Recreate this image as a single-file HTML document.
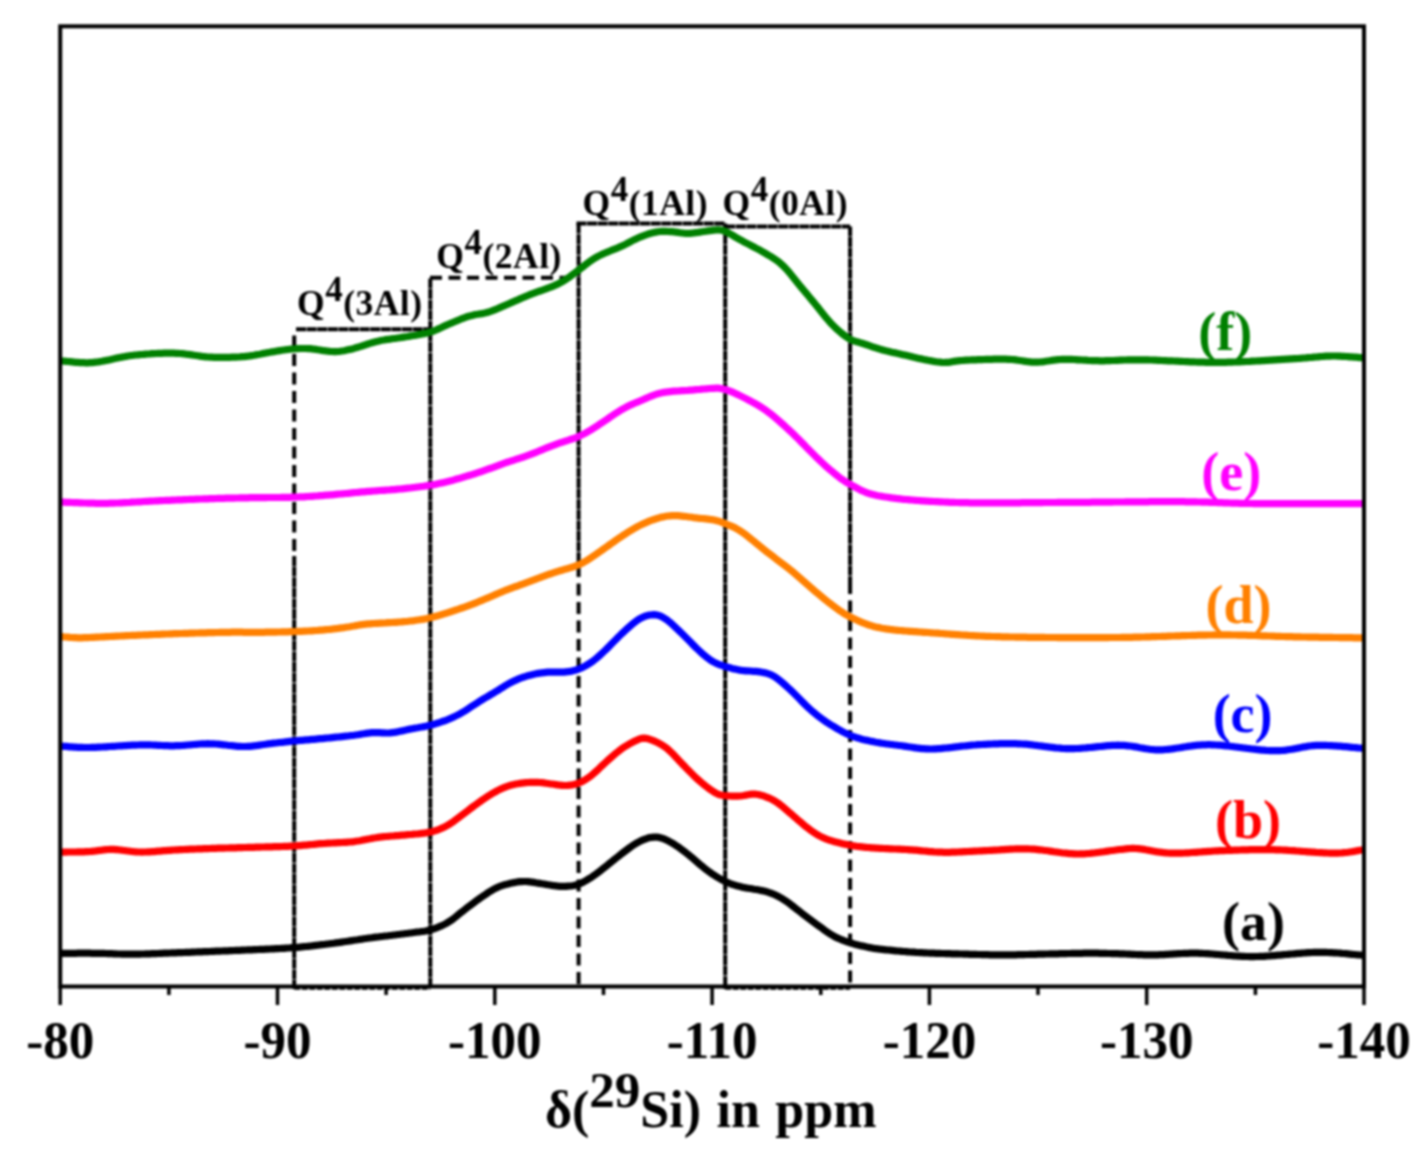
<!DOCTYPE html>
<html><head><meta charset="utf-8"><style>html,body{margin:0;padding:0;background:#fff;width:1427px;height:1155px;overflow:hidden}svg{display:block;filter:blur(0.8px)}</style></head>
<body>
<svg width="1427" height="1155" viewBox="0 0 1427 1155">
<rect x="0" y="0" width="1427" height="1155" fill="#fff"/>
<defs><clipPath id="pc"><rect x="60.2" y="26.3" width="1303.8" height="960.2"/></clipPath></defs>
<line x1="294.2" y1="335.6" x2="294.2" y2="556.0" stroke="#000" stroke-width="4.0" stroke-dasharray="12 6.5"/>
<line x1="294.2" y1="556.0" x2="294.2" y2="989.0" stroke="#000" stroke-width="4.0" stroke-dasharray="10 0.6"/>
<line x1="296.0" y1="329.2" x2="430.3" y2="329.2" stroke="#000" stroke-width="4.0" stroke-dasharray="10 0.6"/>
<line x1="294.2" y1="988.8" x2="430.3" y2="988.8" stroke="#000" stroke-width="2.0" stroke-dasharray="6 1.5"/>
<line x1="430.3" y1="278.5" x2="430.3" y2="986.5" stroke="#000" stroke-width="4.0" stroke-dasharray="10 0.6"/>
<line x1="430.0" y1="277.7" x2="578.3" y2="277.7" stroke="#000" stroke-width="4.0" stroke-dasharray="12 6.5"/>
<line x1="578.6" y1="223.6" x2="578.6" y2="565.0" stroke="#000" stroke-width="4.0" stroke-dasharray="10 0.6"/>
<line x1="578.6" y1="565.0" x2="578.6" y2="986.5" stroke="#000" stroke-width="4.0" stroke-dasharray="12 6.5"/>
<line x1="576.5" y1="223.6" x2="725.2" y2="223.6" stroke="#000" stroke-width="4.0" stroke-dasharray="10 0.6"/>
<line x1="725.2" y1="223.6" x2="725.2" y2="989.0" stroke="#000" stroke-width="4.0" stroke-dasharray="10 0.6"/>
<line x1="725.2" y1="226.4" x2="850.1" y2="226.4" stroke="#000" stroke-width="4.0" stroke-dasharray="10 0.6"/>
<line x1="850.1" y1="226.4" x2="850.1" y2="582.0" stroke="#000" stroke-width="4.0" stroke-dasharray="10 0.6"/>
<line x1="850.1" y1="582.0" x2="850.1" y2="986.5" stroke="#000" stroke-width="4.0" stroke-dasharray="12 6.5"/>
<line x1="725.2" y1="988.8" x2="850.1" y2="988.8" stroke="#000" stroke-width="2.0" stroke-dasharray="6 1.5"/>
<path d="M55.9 953.3 L57.9 953.3 L59.9 953.3 L61.9 953.3 L63.9 953.3 L65.9 953.3 L67.9 953.3 L69.9 953.3 L71.9 953.3 L73.9 953.3 L75.9 953.3 L77.9 953.2 L79.9 953.2 L81.9 953.2 L83.9 953.2 L85.9 953.2 L87.9 953.2 L89.9 953.2 L91.9 953.3 L93.9 953.3 L95.9 953.3 L97.9 953.3 L99.9 953.3 L101.9 953.4 L103.9 953.4 L105.9 953.5 L107.9 953.6 L109.9 953.7 L111.9 953.7 L113.9 953.8 L115.9 953.9 L117.9 954.0 L119.9 954.0 L121.9 954.1 L123.9 954.1 L125.9 954.2 L127.9 954.2 L129.9 954.2 L131.9 954.2 L133.9 954.2 L135.9 954.2 L137.9 954.1 L139.9 954.1 L141.9 954.0 L143.9 954.0 L145.9 953.9 L147.9 953.8 L149.9 953.8 L151.9 953.7 L153.9 953.6 L155.9 953.6 L157.9 953.5 L159.9 953.4 L161.9 953.3 L163.9 953.2 L165.9 953.2 L167.9 953.1 L169.9 953.0 L171.9 952.9 L173.9 952.8 L175.9 952.8 L177.9 952.7 L179.9 952.6 L181.9 952.6 L183.9 952.5 L185.9 952.4 L187.9 952.3 L189.9 952.3 L191.9 952.2 L193.9 952.1 L195.9 952.0 L197.9 951.9 L199.9 951.9 L201.9 951.8 L203.9 951.7 L205.9 951.6 L207.9 951.6 L209.9 951.5 L211.9 951.4 L213.9 951.3 L215.9 951.2 L217.9 951.2 L219.9 951.1 L221.9 951.0 L223.9 950.9 L225.9 950.8 L227.9 950.8 L229.9 950.7 L231.9 950.6 L233.9 950.5 L235.9 950.4 L237.9 950.3 L239.9 950.3 L241.9 950.2 L243.9 950.1 L245.9 950.0 L247.9 949.9 L249.9 949.9 L251.9 949.8 L253.9 949.7 L255.9 949.6 L257.9 949.5 L259.9 949.4 L261.9 949.3 L263.9 949.3 L265.9 949.2 L267.9 949.1 L269.9 949.0 L271.9 948.9 L273.9 948.8 L275.9 948.7 L277.9 948.6 L279.9 948.5 L281.9 948.4 L283.9 948.3 L285.9 948.1 L287.9 948.0 L289.9 947.9 L291.9 947.7 L293.9 947.6 L295.9 947.4 L297.9 947.3 L299.9 947.1 L301.9 946.9 L303.9 946.7 L305.9 946.5 L307.9 946.3 L309.9 946.1 L311.9 945.9 L313.9 945.6 L315.9 945.4 L317.9 945.2 L319.9 944.9 L321.9 944.7 L323.9 944.5 L325.9 944.2 L327.9 944.0 L329.9 943.7 L331.9 943.5 L333.9 943.2 L335.9 942.9 L337.9 942.7 L339.9 942.4 L341.9 942.1 L343.9 941.8 L345.9 941.5 L347.9 941.2 L349.9 940.9 L351.9 940.6 L353.9 940.3 L355.9 940.0 L357.9 939.7 L359.9 939.3 L361.9 939.1 L363.9 938.8 L365.9 938.5 L367.9 938.2 L369.9 938.0 L371.9 937.7 L373.9 937.4 L375.9 937.2 L377.9 937.0 L379.9 936.7 L381.9 936.5 L383.9 936.2 L385.9 936.0 L387.9 935.8 L389.9 935.5 L391.9 935.3 L393.9 935.0 L395.9 934.8 L397.9 934.5 L399.9 934.3 L401.9 934.0 L403.9 933.8 L405.9 933.5 L407.9 933.3 L409.9 933.0 L411.9 932.8 L413.9 932.5 L415.9 932.2 L417.9 932.0 L419.9 931.8 L421.9 931.5 L423.9 931.3 L425.9 931.0 L427.9 930.5 L429.9 930.0 L431.9 929.4 L433.9 928.8 L435.9 928.0 L437.9 927.3 L439.9 926.4 L441.9 925.6 L443.9 924.6 L445.9 923.6 L447.9 922.4 L449.9 921.2 L451.9 919.8 L453.9 918.3 L455.9 916.7 L457.9 915.0 L459.9 913.4 L461.9 911.8 L463.9 910.3 L465.9 908.7 L467.9 907.2 L469.9 905.7 L471.9 904.1 L473.9 902.7 L475.9 901.2 L477.9 899.7 L479.9 898.3 L481.9 896.9 L483.9 895.5 L485.9 894.2 L487.9 892.8 L489.9 891.5 L491.9 890.3 L493.9 889.2 L495.9 888.1 L497.9 887.2 L499.9 886.3 L501.9 885.6 L503.9 885.0 L505.9 884.4 L507.9 883.9 L509.9 883.4 L511.9 883.0 L513.9 882.6 L515.9 882.2 L517.9 881.9 L519.9 881.7 L521.9 881.6 L523.9 881.5 L525.9 881.5 L527.9 881.7 L529.9 881.9 L531.9 882.1 L533.9 882.4 L535.9 882.8 L537.9 883.1 L539.9 883.4 L541.9 883.7 L543.9 884.0 L545.9 884.4 L547.9 884.7 L549.9 885.0 L551.9 885.4 L553.9 885.7 L555.9 885.9 L557.9 886.2 L559.9 886.3 L561.9 886.4 L563.9 886.4 L565.9 886.4 L567.9 886.2 L569.9 886.0 L571.9 885.8 L573.9 885.5 L575.9 885.0 L577.9 884.4 L579.9 883.6 L581.9 882.7 L583.9 881.7 L585.9 880.6 L587.9 879.4 L589.9 878.2 L591.9 876.9 L593.9 875.5 L595.9 874.1 L597.9 872.6 L599.9 871.1 L601.9 869.5 L603.9 867.9 L605.9 866.4 L607.9 864.8 L609.9 863.1 L611.9 861.5 L613.9 859.9 L615.9 858.3 L617.9 856.7 L619.9 855.1 L621.9 853.5 L623.9 852.0 L625.9 850.5 L627.9 849.0 L629.9 847.5 L631.9 846.1 L633.9 844.8 L635.9 843.5 L637.9 842.4 L639.9 841.3 L641.9 840.4 L643.9 839.5 L645.9 838.8 L647.9 838.1 L649.9 837.6 L651.9 837.3 L653.9 837.1 L655.9 837.1 L657.9 837.2 L659.9 837.6 L661.9 838.2 L663.9 838.9 L665.9 839.8 L667.9 840.7 L669.9 841.8 L671.9 842.9 L673.9 844.1 L675.9 845.4 L677.9 846.7 L679.9 848.2 L681.9 849.6 L683.9 851.2 L685.9 852.7 L687.9 854.3 L689.9 855.9 L691.9 857.6 L693.9 859.3 L695.9 861.0 L697.9 862.7 L699.9 864.5 L701.9 866.1 L703.9 867.8 L705.9 869.4 L707.9 870.9 L709.9 872.3 L711.9 873.7 L713.9 875.0 L715.9 876.3 L717.9 877.5 L719.9 878.7 L721.9 879.8 L723.9 880.8 L725.9 881.8 L727.9 882.7 L729.9 883.5 L731.9 884.3 L733.9 884.9 L735.9 885.5 L737.9 886.1 L739.9 886.6 L741.9 887.1 L743.9 887.5 L745.9 887.9 L747.9 888.2 L749.9 888.5 L751.9 888.8 L753.9 889.2 L755.9 889.5 L757.9 889.8 L759.9 890.2 L761.9 890.6 L763.9 891.0 L765.9 891.5 L767.9 892.1 L769.9 892.8 L771.9 893.5 L773.9 894.3 L775.9 895.2 L777.9 896.2 L779.9 897.3 L781.9 898.4 L783.9 899.7 L785.9 901.0 L787.9 902.4 L789.9 903.9 L791.9 905.5 L793.9 907.0 L795.9 908.6 L797.9 910.2 L799.9 911.7 L801.9 913.3 L803.9 914.8 L805.9 916.3 L807.9 917.8 L809.9 919.3 L811.9 920.8 L813.9 922.3 L815.9 923.8 L817.9 925.3 L819.9 926.7 L821.9 928.2 L823.9 929.7 L825.9 931.1 L827.9 932.5 L829.9 933.8 L831.9 935.0 L833.9 936.2 L835.9 937.2 L837.9 938.2 L839.9 939.0 L841.9 939.8 L843.9 940.6 L845.9 941.3 L847.9 942.0 L849.9 942.7 L851.9 943.3 L853.9 943.9 L855.9 944.4 L857.9 944.9 L859.9 945.4 L861.9 945.9 L863.9 946.3 L865.9 946.8 L867.9 947.2 L869.9 947.6 L871.9 948.0 L873.9 948.4 L875.9 948.7 L877.9 948.9 L879.9 949.2 L881.9 949.4 L883.9 949.6 L885.9 949.8 L887.9 950.0 L889.9 950.2 L891.9 950.4 L893.9 950.6 L895.9 950.8 L897.9 951.0 L899.9 951.1 L901.9 951.3 L903.9 951.5 L905.9 951.6 L907.9 951.8 L909.9 952.0 L911.9 952.1 L913.9 952.2 L915.9 952.4 L917.9 952.5 L919.9 952.6 L921.9 952.7 L923.9 952.8 L925.9 952.9 L927.9 953.0 L929.9 953.1 L931.9 953.2 L933.9 953.2 L935.9 953.3 L937.9 953.4 L939.9 953.4 L941.9 953.5 L943.9 953.5 L945.9 953.6 L947.9 953.7 L949.9 953.7 L951.9 953.8 L953.9 953.8 L955.9 953.9 L957.9 953.9 L959.9 954.0 L961.9 954.0 L963.9 954.1 L965.9 954.1 L967.9 954.2 L969.9 954.3 L971.9 954.3 L973.9 954.4 L975.9 954.4 L977.9 954.5 L979.9 954.5 L981.9 954.6 L983.9 954.6 L985.9 954.7 L987.9 954.7 L989.9 954.8 L991.9 954.8 L993.9 954.8 L995.9 954.8 L997.9 954.9 L999.9 954.9 L1001.9 954.9 L1003.9 954.9 L1005.9 954.9 L1007.9 954.9 L1009.9 954.9 L1011.9 954.8 L1013.9 954.8 L1015.9 954.8 L1017.9 954.7 L1019.9 954.7 L1021.9 954.6 L1023.9 954.6 L1025.9 954.5 L1027.9 954.5 L1029.9 954.4 L1031.9 954.4 L1033.9 954.3 L1035.9 954.3 L1037.9 954.2 L1039.9 954.2 L1041.9 954.1 L1043.9 954.1 L1045.9 954.0 L1047.9 954.0 L1049.9 953.9 L1051.9 953.9 L1053.9 953.8 L1055.9 953.8 L1057.9 953.8 L1059.9 953.7 L1061.9 953.7 L1063.9 953.6 L1065.9 953.6 L1067.9 953.5 L1069.9 953.5 L1071.9 953.4 L1073.9 953.4 L1075.9 953.4 L1077.9 953.3 L1079.9 953.3 L1081.9 953.3 L1083.9 953.2 L1085.9 953.2 L1087.9 953.2 L1089.9 953.2 L1091.9 953.2 L1093.9 953.2 L1095.9 953.2 L1097.9 953.2 L1099.9 953.3 L1101.9 953.3 L1103.9 953.4 L1105.9 953.4 L1107.9 953.5 L1109.9 953.5 L1111.9 953.6 L1113.9 953.6 L1115.9 953.7 L1117.9 953.7 L1119.9 953.8 L1121.9 953.9 L1123.9 953.9 L1125.9 954.0 L1127.9 954.1 L1129.9 954.2 L1131.9 954.3 L1133.9 954.4 L1135.9 954.5 L1137.9 954.6 L1139.9 954.6 L1141.9 954.7 L1143.9 954.8 L1145.9 954.8 L1147.9 954.9 L1149.9 954.9 L1151.9 954.9 L1153.9 954.9 L1155.9 954.9 L1157.9 954.8 L1159.9 954.7 L1161.9 954.7 L1163.9 954.6 L1165.9 954.4 L1167.9 954.3 L1169.9 954.2 L1171.9 954.1 L1173.9 953.9 L1175.9 953.8 L1177.9 953.7 L1179.9 953.6 L1181.9 953.5 L1183.9 953.4 L1185.9 953.3 L1187.9 953.3 L1189.9 953.2 L1191.9 953.2 L1193.9 953.2 L1195.9 953.2 L1197.9 953.2 L1199.9 953.3 L1201.9 953.4 L1203.9 953.5 L1205.9 953.6 L1207.9 953.7 L1209.9 953.8 L1211.9 954.0 L1213.9 954.2 L1215.9 954.3 L1217.9 954.5 L1219.9 954.7 L1221.9 954.8 L1223.9 955.0 L1225.9 955.2 L1227.9 955.4 L1229.9 955.5 L1231.9 955.7 L1233.9 955.8 L1235.9 956.0 L1237.9 956.1 L1239.9 956.2 L1241.9 956.3 L1243.9 956.4 L1245.9 956.5 L1247.9 956.5 L1249.9 956.6 L1251.9 956.6 L1253.9 956.6 L1255.9 956.5 L1257.9 956.5 L1259.9 956.4 L1261.9 956.4 L1263.9 956.3 L1265.9 956.1 L1267.9 956.0 L1269.9 955.9 L1271.9 955.7 L1273.9 955.6 L1275.9 955.4 L1277.9 955.2 L1279.9 955.1 L1281.9 954.9 L1283.9 954.7 L1285.9 954.5 L1287.9 954.3 L1289.9 954.1 L1291.9 954.0 L1293.9 953.8 L1295.9 953.6 L1297.9 953.4 L1299.9 953.3 L1301.9 953.1 L1303.9 953.0 L1305.9 952.8 L1307.9 952.7 L1309.9 952.6 L1311.9 952.5 L1313.9 952.4 L1315.9 952.4 L1317.9 952.3 L1319.9 952.3 L1321.9 952.3 L1323.9 952.4 L1325.9 952.4 L1327.9 952.5 L1329.9 952.6 L1331.9 952.7 L1333.9 952.8 L1335.9 952.9 L1337.9 953.0 L1339.9 953.2 L1341.9 953.4 L1343.9 953.5 L1345.9 953.7 L1347.9 953.9 L1349.9 954.1 L1351.9 954.3 L1353.9 954.5 L1355.9 954.7 L1357.9 954.8 L1359.9 955.0 L1361.9 955.2 L1363.9 955.3 L1365.9 955.4 L1367.9 955.4 L1369.9 955.4" fill="none" stroke="#000000" stroke-width="7.2" stroke-linejoin="round" stroke-linecap="round" clip-path="url(#pc)"/>
<path d="M55.9 852.1 L57.9 852.1 L59.9 852.1 L61.9 852.1 L63.9 852.1 L65.9 852.1 L67.9 852.0 L69.9 852.0 L71.9 852.0 L73.9 852.0 L75.9 852.0 L77.9 851.9 L79.9 851.9 L81.9 851.9 L83.9 851.8 L85.9 851.7 L87.9 851.6 L89.9 851.5 L91.9 851.3 L93.9 851.1 L95.9 850.9 L97.9 850.6 L99.9 850.3 L101.9 850.1 L103.9 849.8 L105.9 849.6 L107.9 849.5 L109.9 849.4 L111.9 849.4 L113.9 849.4 L115.9 849.6 L117.9 849.7 L119.9 850.0 L121.9 850.2 L123.9 850.5 L125.9 850.7 L127.9 851.0 L129.9 851.2 L131.9 851.5 L133.9 851.7 L135.9 851.8 L137.9 852.0 L139.9 852.0 L141.9 852.1 L143.9 852.0 L145.9 852.0 L147.9 851.9 L149.9 851.8 L151.9 851.7 L153.9 851.6 L155.9 851.4 L157.9 851.2 L159.9 851.1 L161.9 850.9 L163.9 850.7 L165.9 850.6 L167.9 850.4 L169.9 850.3 L171.9 850.1 L173.9 850.0 L175.9 849.9 L177.9 849.8 L179.9 849.7 L181.9 849.6 L183.9 849.5 L185.9 849.4 L187.9 849.3 L189.9 849.2 L191.9 849.1 L193.9 849.1 L195.9 849.0 L197.9 848.9 L199.9 848.8 L201.9 848.8 L203.9 848.7 L205.9 848.6 L207.9 848.6 L209.9 848.5 L211.9 848.4 L213.9 848.4 L215.9 848.3 L217.9 848.2 L219.9 848.2 L221.9 848.1 L223.9 848.1 L225.9 848.0 L227.9 848.0 L229.9 847.9 L231.9 847.9 L233.9 847.8 L235.9 847.8 L237.9 847.7 L239.9 847.6 L241.9 847.6 L243.9 847.5 L245.9 847.5 L247.9 847.4 L249.9 847.4 L251.9 847.3 L253.9 847.3 L255.9 847.2 L257.9 847.1 L259.9 847.1 L261.9 847.0 L263.9 847.0 L265.9 846.9 L267.9 846.9 L269.9 846.8 L271.9 846.8 L273.9 846.7 L275.9 846.7 L277.9 846.6 L279.9 846.6 L281.9 846.5 L283.9 846.4 L285.9 846.3 L287.9 846.3 L289.9 846.2 L291.9 846.1 L293.9 846.0 L295.9 845.9 L297.9 845.7 L299.9 845.6 L301.9 845.4 L303.9 845.2 L305.9 845.1 L307.9 844.9 L309.9 844.7 L311.9 844.5 L313.9 844.3 L315.9 844.1 L317.9 843.9 L319.9 843.7 L321.9 843.6 L323.9 843.5 L325.9 843.3 L327.9 843.2 L329.9 843.1 L331.9 843.0 L333.9 842.9 L335.9 842.8 L337.9 842.7 L339.9 842.6 L341.9 842.5 L343.9 842.4 L345.9 842.3 L347.9 842.1 L349.9 842.0 L351.9 841.8 L353.9 841.6 L355.9 841.3 L357.9 841.0 L359.9 840.7 L361.9 840.3 L363.9 839.9 L365.9 839.5 L367.9 839.1 L369.9 838.8 L371.9 838.4 L373.9 838.0 L375.9 837.7 L377.9 837.4 L379.9 837.1 L381.9 836.9 L383.9 836.7 L385.9 836.5 L387.9 836.3 L389.9 836.2 L391.9 836.0 L393.9 835.9 L395.9 835.7 L397.9 835.6 L399.9 835.4 L401.9 835.2 L403.9 835.1 L405.9 834.9 L407.9 834.7 L409.9 834.5 L411.9 834.4 L413.9 834.2 L415.9 834.0 L417.9 833.9 L419.9 833.7 L421.9 833.4 L423.9 833.2 L425.9 832.9 L427.9 832.5 L429.9 832.1 L431.9 831.7 L433.9 831.1 L435.9 830.5 L437.9 829.8 L439.9 829.0 L441.9 828.1 L443.9 827.2 L445.9 826.2 L447.9 825.1 L449.9 823.9 L451.9 822.6 L453.9 821.2 L455.9 819.7 L457.9 818.2 L459.9 816.6 L461.9 815.1 L463.9 813.6 L465.9 812.1 L467.9 810.6 L469.9 809.0 L471.9 807.5 L473.9 806.0 L475.9 804.6 L477.9 803.1 L479.9 801.7 L481.9 800.3 L483.9 798.9 L485.9 797.6 L487.9 796.2 L489.9 795.0 L491.9 793.7 L493.9 792.6 L495.9 791.5 L497.9 790.4 L499.9 789.4 L501.9 788.5 L503.9 787.6 L505.9 786.8 L507.9 786.1 L509.9 785.5 L511.9 784.9 L513.9 784.5 L515.9 784.0 L517.9 783.7 L519.9 783.4 L521.9 783.1 L523.9 782.9 L525.9 782.7 L527.9 782.5 L529.9 782.4 L531.9 782.3 L533.9 782.3 L535.9 782.3 L537.9 782.4 L539.9 782.5 L541.9 782.7 L543.9 782.9 L545.9 783.2 L547.9 783.5 L549.9 783.8 L551.9 784.0 L553.9 784.3 L555.9 784.6 L557.9 784.9 L559.9 785.1 L561.9 785.3 L563.9 785.5 L565.9 785.5 L567.9 785.4 L569.9 785.2 L571.9 784.9 L573.9 784.5 L575.9 784.0 L577.9 783.3 L579.9 782.5 L581.9 781.6 L583.9 780.5 L585.9 779.3 L587.9 778.0 L589.9 776.6 L591.9 775.0 L593.9 773.3 L595.9 771.5 L597.9 769.7 L599.9 767.7 L601.9 765.8 L603.9 764.0 L605.9 762.1 L607.9 760.3 L609.9 758.5 L611.9 756.7 L613.9 755.0 L615.9 753.3 L617.9 751.7 L619.9 750.1 L621.9 748.6 L623.9 747.3 L625.9 746.0 L627.9 744.8 L629.9 743.7 L631.9 742.6 L633.9 741.5 L635.9 740.6 L637.9 739.7 L639.9 738.9 L641.9 738.3 L643.9 738.1 L645.9 738.3 L647.9 738.8 L649.9 739.4 L651.9 740.1 L653.9 740.9 L655.9 741.8 L657.9 742.7 L659.9 743.8 L661.9 744.9 L663.9 746.2 L665.9 747.6 L667.9 749.3 L669.9 751.1 L671.9 753.0 L673.9 755.1 L675.9 757.2 L677.9 759.3 L679.9 761.5 L681.9 763.6 L683.9 765.6 L685.9 767.7 L687.9 769.7 L689.9 771.8 L691.9 773.8 L693.9 775.8 L695.9 777.7 L697.9 779.5 L699.9 781.3 L701.9 783.0 L703.9 784.6 L705.9 786.2 L707.9 787.8 L709.9 789.2 L711.9 790.6 L713.9 791.9 L715.9 793.1 L717.9 794.1 L719.9 794.8 L721.9 795.2 L723.9 795.5 L725.9 795.8 L727.9 795.9 L729.9 796.0 L731.9 796.1 L733.9 796.1 L735.9 796.1 L737.9 796.1 L739.9 796.0 L741.9 795.8 L743.9 795.5 L745.9 795.1 L747.9 794.7 L749.9 794.4 L751.9 794.2 L753.9 794.1 L755.9 794.2 L757.9 794.5 L759.9 794.9 L761.9 795.4 L763.9 796.0 L765.9 796.8 L767.9 797.6 L769.9 798.4 L771.9 799.4 L773.9 800.5 L775.9 801.7 L777.9 803.0 L779.9 804.5 L781.9 806.1 L783.9 807.8 L785.9 809.5 L787.9 811.2 L789.9 812.9 L791.9 814.6 L793.9 816.4 L795.9 818.1 L797.9 819.9 L799.9 821.6 L801.9 823.3 L803.9 825.0 L805.9 826.7 L807.9 828.2 L809.9 829.7 L811.9 831.1 L813.9 832.5 L815.9 833.8 L817.9 835.0 L819.9 836.1 L821.9 837.1 L823.9 838.0 L825.9 838.9 L827.9 839.6 L829.9 840.3 L831.9 840.9 L833.9 841.5 L835.9 842.1 L837.9 842.6 L839.9 843.1 L841.9 843.6 L843.9 844.0 L845.9 844.4 L847.9 844.8 L849.9 845.2 L851.9 845.6 L853.9 845.9 L855.9 846.2 L857.9 846.5 L859.9 846.7 L861.9 846.9 L863.9 847.1 L865.9 847.3 L867.9 847.5 L869.9 847.6 L871.9 847.8 L873.9 847.9 L875.9 848.1 L877.9 848.2 L879.9 848.3 L881.9 848.4 L883.9 848.5 L885.9 848.6 L887.9 848.7 L889.9 848.8 L891.9 848.9 L893.9 849.0 L895.9 849.0 L897.9 849.1 L899.9 849.2 L901.9 849.3 L903.9 849.4 L905.9 849.5 L907.9 849.6 L909.9 849.8 L911.9 849.9 L913.9 850.1 L915.9 850.2 L917.9 850.4 L919.9 850.6 L921.9 850.8 L923.9 851.0 L925.9 851.2 L927.9 851.4 L929.9 851.6 L931.9 851.7 L933.9 851.9 L935.9 852.0 L937.9 852.1 L939.9 852.2 L941.9 852.2 L943.9 852.3 L945.9 852.3 L947.9 852.3 L949.9 852.3 L951.9 852.2 L953.9 852.2 L955.9 852.1 L957.9 852.0 L959.9 851.9 L961.9 851.8 L963.9 851.7 L965.9 851.6 L967.9 851.5 L969.9 851.4 L971.9 851.3 L973.9 851.2 L975.9 851.1 L977.9 851.0 L979.9 850.9 L981.9 850.8 L983.9 850.7 L985.9 850.6 L987.9 850.5 L989.9 850.4 L991.9 850.3 L993.9 850.2 L995.9 850.1 L997.9 850.0 L999.9 849.8 L1001.9 849.7 L1003.9 849.6 L1005.9 849.4 L1007.9 849.3 L1009.9 849.2 L1011.9 849.1 L1013.9 849.0 L1015.9 848.9 L1017.9 848.9 L1019.9 848.8 L1021.9 848.8 L1023.9 848.8 L1025.9 848.8 L1027.9 848.9 L1029.9 849.0 L1031.9 849.1 L1033.9 849.2 L1035.9 849.4 L1037.9 849.6 L1039.9 849.8 L1041.9 850.0 L1043.9 850.3 L1045.9 850.5 L1047.9 850.8 L1049.9 851.1 L1051.9 851.4 L1053.9 851.7 L1055.9 852.0 L1057.9 852.2 L1059.9 852.5 L1061.9 852.8 L1063.9 853.0 L1065.9 853.2 L1067.9 853.4 L1069.9 853.6 L1071.9 853.7 L1073.9 853.9 L1075.9 853.9 L1077.9 854.0 L1079.9 853.9 L1081.9 853.9 L1083.9 853.8 L1085.9 853.7 L1087.9 853.5 L1089.9 853.4 L1091.9 853.2 L1093.9 853.0 L1095.9 852.7 L1097.9 852.5 L1099.9 852.2 L1101.9 852.0 L1103.9 851.7 L1105.9 851.4 L1107.9 851.1 L1109.9 850.8 L1111.9 850.5 L1113.9 850.3 L1115.9 850.0 L1117.9 849.7 L1119.9 849.5 L1121.9 849.3 L1123.9 849.1 L1125.9 848.8 L1127.9 848.6 L1129.9 848.5 L1131.9 848.4 L1133.9 848.4 L1135.9 848.5 L1137.9 848.6 L1139.9 848.8 L1141.9 849.1 L1143.9 849.4 L1145.9 849.8 L1147.9 850.1 L1149.9 850.5 L1151.9 850.9 L1153.9 851.2 L1155.9 851.6 L1157.9 851.9 L1159.9 852.2 L1161.9 852.4 L1163.9 852.7 L1165.9 852.8 L1167.9 853.0 L1169.9 853.1 L1171.9 853.2 L1173.9 853.2 L1175.9 853.2 L1177.9 853.2 L1179.9 853.1 L1181.9 853.1 L1183.9 853.0 L1185.9 852.9 L1187.9 852.8 L1189.9 852.7 L1191.9 852.5 L1193.9 852.4 L1195.9 852.3 L1197.9 852.1 L1199.9 852.0 L1201.9 851.8 L1203.9 851.7 L1205.9 851.6 L1207.9 851.4 L1209.9 851.3 L1211.9 851.2 L1213.9 851.0 L1215.9 850.9 L1217.9 850.8 L1219.9 850.7 L1221.9 850.7 L1223.9 850.6 L1225.9 850.5 L1227.9 850.4 L1229.9 850.4 L1231.9 850.3 L1233.9 850.2 L1235.9 850.1 L1237.9 850.1 L1239.9 850.0 L1241.9 849.9 L1243.9 849.9 L1245.9 849.8 L1247.9 849.8 L1249.9 849.7 L1251.9 849.7 L1253.9 849.7 L1255.9 849.6 L1257.9 849.6 L1259.9 849.6 L1261.9 849.6 L1263.9 849.6 L1265.9 849.6 L1267.9 849.6 L1269.9 849.6 L1271.9 849.7 L1273.9 849.7 L1275.9 849.8 L1277.9 849.8 L1279.9 849.9 L1281.9 850.0 L1283.9 850.1 L1285.9 850.2 L1287.9 850.3 L1289.9 850.5 L1291.9 850.6 L1293.9 850.7 L1295.9 850.9 L1297.9 851.0 L1299.9 851.2 L1301.9 851.3 L1303.9 851.5 L1305.9 851.6 L1307.9 851.8 L1309.9 851.9 L1311.9 852.1 L1313.9 852.2 L1315.9 852.4 L1317.9 852.5 L1319.9 852.6 L1321.9 852.7 L1323.9 852.8 L1325.9 852.9 L1327.9 853.0 L1329.9 853.1 L1331.9 853.1 L1333.9 853.2 L1335.9 853.1 L1337.9 853.1 L1339.9 853.0 L1341.9 852.9 L1343.9 852.7 L1345.9 852.5 L1347.9 852.3 L1349.9 852.0 L1351.9 851.7 L1353.9 851.4 L1355.9 851.0 L1357.9 850.6 L1359.9 850.3 L1361.9 850.0 L1363.9 849.7 L1365.9 849.6 L1367.9 849.5 L1369.9 849.5" fill="none" stroke="#ff0000" stroke-width="7.2" stroke-linejoin="round" stroke-linecap="round" clip-path="url(#pc)"/>
<path d="M55.9 746.1 L57.9 746.1 L59.9 746.1 L61.9 746.2 L63.9 746.3 L65.9 746.4 L67.9 746.6 L69.9 746.8 L71.9 746.9 L73.9 747.1 L75.9 747.2 L77.9 747.3 L79.9 747.4 L81.9 747.4 L83.9 747.5 L85.9 747.5 L87.9 747.5 L89.9 747.5 L91.9 747.4 L93.9 747.4 L95.9 747.3 L97.9 747.2 L99.9 747.1 L101.9 747.0 L103.9 746.9 L105.9 746.8 L107.9 746.6 L109.9 746.5 L111.9 746.4 L113.9 746.3 L115.9 746.2 L117.9 746.0 L119.9 745.9 L121.9 745.8 L123.9 745.7 L125.9 745.6 L127.9 745.4 L129.9 745.3 L131.9 745.2 L133.9 745.1 L135.9 745.1 L137.9 745.0 L139.9 744.9 L141.9 744.9 L143.9 744.9 L145.9 744.9 L147.9 744.9 L149.9 744.9 L151.9 745.0 L153.9 745.1 L155.9 745.2 L157.9 745.3 L159.9 745.4 L161.9 745.5 L163.9 745.6 L165.9 745.6 L167.9 745.7 L169.9 745.8 L171.9 745.8 L173.9 745.8 L175.9 745.7 L177.9 745.7 L179.9 745.6 L181.9 745.5 L183.9 745.3 L185.9 745.2 L187.9 745.0 L189.9 744.8 L191.9 744.7 L193.9 744.5 L195.9 744.3 L197.9 744.2 L199.9 744.0 L201.9 743.9 L203.9 743.8 L205.9 743.8 L207.9 743.7 L209.9 743.8 L211.9 743.8 L213.9 743.9 L215.9 744.0 L217.9 744.2 L219.9 744.4 L221.9 744.6 L223.9 744.8 L225.9 745.0 L227.9 745.3 L229.9 745.5 L231.9 745.7 L233.9 745.9 L235.9 746.1 L237.9 746.3 L239.9 746.4 L241.9 746.5 L243.9 746.5 L245.9 746.5 L247.9 746.4 L249.9 746.3 L251.9 746.1 L253.9 745.9 L255.9 745.7 L257.9 745.4 L259.9 745.1 L261.9 744.8 L263.9 744.5 L265.9 744.2 L267.9 743.9 L269.9 743.7 L271.9 743.4 L273.9 743.2 L275.9 743.0 L277.9 742.7 L279.9 742.5 L281.9 742.3 L283.9 742.1 L285.9 741.8 L287.9 741.6 L289.9 741.4 L291.9 741.2 L293.9 741.0 L295.9 740.8 L297.9 740.6 L299.9 740.4 L301.9 740.3 L303.9 740.1 L305.9 739.9 L307.9 739.8 L309.9 739.6 L311.9 739.4 L313.9 739.3 L315.9 739.1 L317.9 738.9 L319.9 738.7 L321.9 738.6 L323.9 738.4 L325.9 738.2 L327.9 738.0 L329.9 737.8 L331.9 737.6 L333.9 737.4 L335.9 737.2 L337.9 737.0 L339.9 736.8 L341.9 736.6 L343.9 736.4 L345.9 736.2 L347.9 736.0 L349.9 735.7 L351.9 735.5 L353.9 735.3 L355.9 735.0 L357.9 734.7 L359.9 734.4 L361.9 734.0 L363.9 733.7 L365.9 733.4 L367.9 733.1 L369.9 732.9 L371.9 732.7 L373.9 732.6 L375.9 732.6 L377.9 732.6 L379.9 732.7 L381.9 732.8 L383.9 732.9 L385.9 733.0 L387.9 733.0 L389.9 732.9 L391.9 732.7 L393.9 732.4 L395.9 732.1 L397.9 731.7 L399.9 731.3 L401.9 730.9 L403.9 730.4 L405.9 730.0 L407.9 729.5 L409.9 729.1 L411.9 728.7 L413.9 728.4 L415.9 728.0 L417.9 727.7 L419.9 727.3 L421.9 727.0 L423.9 726.6 L425.9 726.2 L427.9 725.7 L429.9 725.3 L431.9 724.8 L433.9 724.2 L435.9 723.6 L437.9 723.0 L439.9 722.4 L441.9 721.7 L443.9 721.0 L445.9 720.3 L447.9 719.5 L449.9 718.7 L451.9 717.8 L453.9 716.9 L455.9 715.9 L457.9 714.9 L459.9 713.8 L461.9 712.7 L463.9 711.5 L465.9 710.3 L467.9 709.0 L469.9 707.6 L471.9 706.3 L473.9 705.0 L475.9 703.7 L477.9 702.4 L479.9 701.1 L481.9 699.9 L483.9 698.7 L485.9 697.5 L487.9 696.3 L489.9 695.1 L491.9 693.9 L493.9 692.8 L495.9 691.5 L497.9 690.3 L499.9 689.1 L501.9 687.8 L503.9 686.6 L505.9 685.3 L507.9 684.2 L509.9 683.0 L511.9 682.0 L513.9 681.0 L515.9 680.1 L517.9 679.2 L519.9 678.4 L521.9 677.7 L523.9 677.0 L525.9 676.4 L527.9 675.7 L529.9 675.2 L531.9 674.7 L533.9 674.2 L535.9 673.8 L537.9 673.4 L539.9 673.1 L541.9 672.8 L543.9 672.6 L545.9 672.4 L547.9 672.2 L549.9 672.2 L551.9 672.1 L553.9 672.1 L555.9 672.1 L557.9 672.2 L559.9 672.2 L561.9 672.1 L563.9 672.1 L565.9 671.9 L567.9 671.7 L569.9 671.4 L571.9 671.1 L573.9 670.6 L575.9 670.0 L577.9 669.3 L579.9 668.5 L581.9 667.6 L583.9 666.7 L585.9 665.6 L587.9 664.4 L589.9 663.2 L591.9 661.8 L593.9 660.3 L595.9 658.7 L597.9 657.0 L599.9 655.2 L601.9 653.4 L603.9 651.5 L605.9 649.6 L607.9 647.6 L609.9 645.6 L611.9 643.5 L613.9 641.5 L615.9 639.5 L617.9 637.4 L619.9 635.5 L621.9 633.5 L623.9 631.7 L625.9 629.8 L627.9 628.0 L629.9 626.2 L631.9 624.5 L633.9 622.8 L635.9 621.3 L637.9 619.9 L639.9 618.7 L641.9 617.6 L643.9 616.7 L645.9 616.0 L647.9 615.4 L649.9 615.0 L651.9 614.8 L653.9 614.7 L655.9 614.9 L657.9 615.3 L659.9 615.9 L661.9 616.8 L663.9 617.9 L665.9 619.2 L667.9 620.7 L669.9 622.3 L671.9 624.0 L673.9 625.9 L675.9 627.7 L677.9 629.7 L679.9 631.6 L681.9 633.5 L683.9 635.5 L685.9 637.5 L687.9 639.5 L689.9 641.5 L691.9 643.6 L693.9 645.6 L695.9 647.6 L697.9 649.5 L699.9 651.4 L701.9 653.2 L703.9 654.9 L705.9 656.6 L707.9 658.2 L709.9 659.7 L711.9 661.0 L713.9 662.1 L715.9 663.1 L717.9 664.0 L719.9 664.8 L721.9 665.4 L723.9 666.1 L725.9 666.7 L727.9 667.3 L729.9 667.8 L731.9 668.4 L733.9 668.9 L735.9 669.3 L737.9 669.7 L739.9 670.1 L741.9 670.4 L743.9 670.6 L745.9 670.8 L747.9 670.9 L749.9 671.0 L751.9 671.2 L753.9 671.3 L755.9 671.4 L757.9 671.6 L759.9 671.9 L761.9 672.2 L763.9 672.6 L765.9 673.0 L767.9 673.6 L769.9 674.3 L771.9 675.2 L773.9 676.3 L775.9 677.6 L777.9 679.0 L779.9 680.6 L781.9 682.2 L783.9 684.0 L785.9 685.8 L787.9 687.6 L789.9 689.4 L791.9 691.3 L793.9 693.3 L795.9 695.3 L797.9 697.3 L799.9 699.3 L801.9 701.4 L803.9 703.4 L805.9 705.4 L807.9 707.3 L809.9 709.1 L811.9 710.9 L813.9 712.6 L815.9 714.3 L817.9 715.9 L819.9 717.4 L821.9 718.9 L823.9 720.3 L825.9 721.7 L827.9 723.0 L829.9 724.3 L831.9 725.5 L833.9 726.7 L835.9 727.9 L837.9 729.1 L839.9 730.2 L841.9 731.3 L843.9 732.4 L845.9 733.4 L847.9 734.3 L849.9 735.2 L851.9 736.0 L853.9 736.8 L855.9 737.4 L857.9 738.1 L859.9 738.6 L861.9 739.2 L863.9 739.7 L865.9 740.1 L867.9 740.5 L869.9 741.0 L871.9 741.4 L873.9 741.8 L875.9 742.2 L877.9 742.5 L879.9 742.9 L881.9 743.2 L883.9 743.5 L885.9 743.8 L887.9 744.0 L889.9 744.3 L891.9 744.5 L893.9 744.8 L895.9 745.0 L897.9 745.3 L899.9 745.5 L901.9 745.8 L903.9 746.1 L905.9 746.4 L907.9 746.7 L909.9 747.0 L911.9 747.3 L913.9 747.6 L915.9 747.9 L917.9 748.2 L919.9 748.4 L921.9 748.6 L923.9 748.7 L925.9 748.8 L927.9 748.9 L929.9 749.0 L931.9 749.0 L933.9 748.9 L935.9 748.8 L937.9 748.7 L939.9 748.6 L941.9 748.4 L943.9 748.2 L945.9 748.0 L947.9 747.8 L949.9 747.6 L951.9 747.4 L953.9 747.1 L955.9 746.9 L957.9 746.7 L959.9 746.4 L961.9 746.2 L963.9 746.0 L965.9 745.8 L967.9 745.6 L969.9 745.4 L971.9 745.2 L973.9 745.0 L975.9 744.9 L977.9 744.7 L979.9 744.6 L981.9 744.5 L983.9 744.4 L985.9 744.3 L987.9 744.2 L989.9 744.1 L991.9 744.0 L993.9 743.9 L995.9 743.8 L997.9 743.8 L999.9 743.7 L1001.9 743.7 L1003.9 743.7 L1005.9 743.6 L1007.9 743.6 L1009.9 743.6 L1011.9 743.7 L1013.9 743.7 L1015.9 743.7 L1017.9 743.8 L1019.9 743.9 L1021.9 744.0 L1023.9 744.1 L1025.9 744.2 L1027.9 744.4 L1029.9 744.6 L1031.9 744.8 L1033.9 745.1 L1035.9 745.3 L1037.9 745.6 L1039.9 745.8 L1041.9 746.1 L1043.9 746.4 L1045.9 746.7 L1047.9 746.9 L1049.9 747.2 L1051.9 747.4 L1053.9 747.6 L1055.9 747.9 L1057.9 748.0 L1059.9 748.2 L1061.9 748.4 L1063.9 748.5 L1065.9 748.6 L1067.9 748.6 L1069.9 748.7 L1071.9 748.7 L1073.9 748.6 L1075.9 748.5 L1077.9 748.5 L1079.9 748.3 L1081.9 748.2 L1083.9 748.0 L1085.9 747.9 L1087.9 747.7 L1089.9 747.5 L1091.9 747.3 L1093.9 747.1 L1095.9 746.9 L1097.9 746.7 L1099.9 746.5 L1101.9 746.3 L1103.9 746.1 L1105.9 745.9 L1107.9 745.7 L1109.9 745.6 L1111.9 745.4 L1113.9 745.3 L1115.9 745.3 L1117.9 745.2 L1119.9 745.3 L1121.9 745.3 L1123.9 745.4 L1125.9 745.6 L1127.9 745.8 L1129.9 746.0 L1131.9 746.3 L1133.9 746.6 L1135.9 746.9 L1137.9 747.3 L1139.9 747.7 L1141.9 748.0 L1143.9 748.4 L1145.9 748.7 L1147.9 749.0 L1149.9 749.3 L1151.9 749.5 L1153.9 749.7 L1155.9 749.8 L1157.9 749.8 L1159.9 749.8 L1161.9 749.8 L1163.9 749.7 L1165.9 749.5 L1167.9 749.3 L1169.9 749.1 L1171.9 748.9 L1173.9 748.6 L1175.9 748.3 L1177.9 748.0 L1179.9 747.7 L1181.9 747.4 L1183.9 747.0 L1185.9 746.7 L1187.9 746.4 L1189.9 746.2 L1191.9 745.9 L1193.9 745.6 L1195.9 745.4 L1197.9 745.2 L1199.9 745.1 L1201.9 744.9 L1203.9 744.8 L1205.9 744.8 L1207.9 744.7 L1209.9 744.7 L1211.9 744.8 L1213.9 744.9 L1215.9 745.0 L1217.9 745.1 L1219.9 745.2 L1221.9 745.4 L1223.9 745.6 L1225.9 745.8 L1227.9 746.0 L1229.9 746.2 L1231.9 746.5 L1233.9 746.7 L1235.9 747.0 L1237.9 747.2 L1239.9 747.5 L1241.9 747.7 L1243.9 748.0 L1245.9 748.2 L1247.9 748.5 L1249.9 748.7 L1251.9 749.0 L1253.9 749.2 L1255.9 749.4 L1257.9 749.7 L1259.9 749.9 L1261.9 750.1 L1263.9 750.2 L1265.9 750.4 L1267.9 750.5 L1269.9 750.6 L1271.9 750.7 L1273.9 750.7 L1275.9 750.7 L1277.9 750.7 L1279.9 750.6 L1281.9 750.5 L1283.9 750.3 L1285.9 750.1 L1287.9 749.8 L1289.9 749.5 L1291.9 749.2 L1293.9 748.9 L1295.9 748.5 L1297.9 748.1 L1299.9 747.7 L1301.9 747.3 L1303.9 746.9 L1305.9 746.6 L1307.9 746.2 L1309.9 746.0 L1311.9 745.7 L1313.9 745.6 L1315.9 745.4 L1317.9 745.3 L1319.9 745.3 L1321.9 745.3 L1323.9 745.3 L1325.9 745.4 L1327.9 745.5 L1329.9 745.6 L1331.9 745.7 L1333.9 745.8 L1335.9 745.9 L1337.9 746.1 L1339.9 746.2 L1341.9 746.4 L1343.9 746.6 L1345.9 746.7 L1347.9 746.9 L1349.9 747.1 L1351.9 747.3 L1353.9 747.5 L1355.9 747.7 L1357.9 747.9 L1359.9 748.0 L1361.9 748.2 L1363.9 748.3 L1365.9 748.4 L1367.9 748.4 L1369.9 748.4" fill="none" stroke="#0000ff" stroke-width="7.2" stroke-linejoin="round" stroke-linecap="round" clip-path="url(#pc)"/>
<path d="M55.9 636.6 L57.9 636.6 L59.9 636.6 L61.9 636.7 L63.9 636.9 L65.9 637.0 L67.9 637.2 L69.9 637.4 L71.9 637.5 L73.9 637.7 L75.9 637.7 L77.9 637.8 L79.9 637.8 L81.9 637.8 L83.9 637.7 L85.9 637.7 L87.9 637.6 L89.9 637.5 L91.9 637.4 L93.9 637.3 L95.9 637.2 L97.9 637.1 L99.9 637.0 L101.9 636.9 L103.9 636.8 L105.9 636.7 L107.9 636.6 L109.9 636.5 L111.9 636.4 L113.9 636.3 L115.9 636.2 L117.9 636.1 L119.9 636.0 L121.9 635.9 L123.9 635.8 L125.9 635.7 L127.9 635.6 L129.9 635.5 L131.9 635.4 L133.9 635.4 L135.9 635.3 L137.9 635.2 L139.9 635.1 L141.9 635.0 L143.9 634.9 L145.9 634.8 L147.9 634.8 L149.9 634.7 L151.9 634.6 L153.9 634.5 L155.9 634.4 L157.9 634.3 L159.9 634.3 L161.9 634.2 L163.9 634.1 L165.9 634.0 L167.9 634.0 L169.9 633.9 L171.9 633.8 L173.9 633.7 L175.9 633.7 L177.9 633.6 L179.9 633.5 L181.9 633.5 L183.9 633.4 L185.9 633.3 L187.9 633.3 L189.9 633.2 L191.9 633.2 L193.9 633.1 L195.9 633.0 L197.9 633.0 L199.9 632.9 L201.9 632.9 L203.9 632.8 L205.9 632.8 L207.9 632.7 L209.9 632.7 L211.9 632.6 L213.9 632.6 L215.9 632.5 L217.9 632.5 L219.9 632.4 L221.9 632.4 L223.9 632.4 L225.9 632.3 L227.9 632.3 L229.9 632.3 L231.9 632.2 L233.9 632.2 L235.9 632.2 L237.9 632.2 L239.9 632.2 L241.9 632.2 L243.9 632.3 L245.9 632.3 L247.9 632.3 L249.9 632.3 L251.9 632.3 L253.9 632.3 L255.9 632.3 L257.9 632.3 L259.9 632.3 L261.9 632.3 L263.9 632.3 L265.9 632.2 L267.9 632.2 L269.9 632.2 L271.9 632.2 L273.9 632.1 L275.9 632.1 L277.9 632.0 L279.9 632.0 L281.9 631.9 L283.9 631.9 L285.9 631.8 L287.9 631.8 L289.9 631.7 L291.9 631.7 L293.9 631.6 L295.9 631.5 L297.9 631.4 L299.9 631.4 L301.9 631.3 L303.9 631.2 L305.9 631.1 L307.9 631.0 L309.9 630.9 L311.9 630.8 L313.9 630.6 L315.9 630.5 L317.9 630.4 L319.9 630.2 L321.9 630.1 L323.9 629.9 L325.9 629.7 L327.9 629.5 L329.9 629.3 L331.9 629.1 L333.9 628.8 L335.9 628.6 L337.9 628.4 L339.9 628.1 L341.9 627.8 L343.9 627.6 L345.9 627.3 L347.9 627.0 L349.9 626.7 L351.9 626.3 L353.9 626.0 L355.9 625.6 L357.9 625.2 L359.9 624.9 L361.9 624.6 L363.9 624.3 L365.9 624.1 L367.9 623.9 L369.9 623.8 L371.9 623.6 L373.9 623.5 L375.9 623.4 L377.9 623.3 L379.9 623.2 L381.9 623.1 L383.9 623.0 L385.9 622.9 L387.9 622.7 L389.9 622.6 L391.9 622.5 L393.9 622.4 L395.9 622.3 L397.9 622.1 L399.9 622.0 L401.9 621.8 L403.9 621.6 L405.9 621.5 L407.9 621.3 L409.9 621.0 L411.9 620.8 L413.9 620.6 L415.9 620.3 L417.9 620.0 L419.9 619.7 L421.9 619.4 L423.9 619.1 L425.9 618.7 L427.9 618.3 L429.9 617.8 L431.9 617.3 L433.9 616.8 L435.9 616.2 L437.9 615.7 L439.9 615.1 L441.9 614.5 L443.9 613.9 L445.9 613.3 L447.9 612.6 L449.9 612.0 L451.9 611.3 L453.9 610.7 L455.9 610.0 L457.9 609.4 L459.9 608.7 L461.9 608.0 L463.9 607.3 L465.9 606.6 L467.9 605.9 L469.9 605.1 L471.9 604.4 L473.9 603.6 L475.9 602.8 L477.9 602.0 L479.9 601.2 L481.9 600.4 L483.9 599.5 L485.9 598.7 L487.9 597.9 L489.9 597.0 L491.9 596.2 L493.9 595.3 L495.9 594.4 L497.9 593.5 L499.9 592.7 L501.9 591.8 L503.9 591.0 L505.9 590.2 L507.9 589.5 L509.9 588.7 L511.9 588.0 L513.9 587.2 L515.9 586.5 L517.9 585.8 L519.9 585.0 L521.9 584.3 L523.9 583.6 L525.9 582.8 L527.9 582.1 L529.9 581.4 L531.9 580.6 L533.9 579.9 L535.9 579.1 L537.9 578.4 L539.9 577.7 L541.9 576.9 L543.9 576.2 L545.9 575.4 L547.9 574.7 L549.9 574.0 L551.9 573.3 L553.9 572.6 L555.9 572.0 L557.9 571.4 L559.9 570.8 L561.9 570.2 L563.9 569.6 L565.9 569.1 L567.9 568.5 L569.9 567.9 L571.9 567.3 L573.9 566.6 L575.9 565.9 L577.9 565.1 L579.9 564.2 L581.9 563.3 L583.9 562.2 L585.9 561.0 L587.9 559.8 L589.9 558.5 L591.9 557.1 L593.9 555.7 L595.9 554.4 L597.9 553.0 L599.9 551.6 L601.9 550.2 L603.9 548.8 L605.9 547.4 L607.9 546.0 L609.9 544.5 L611.9 543.1 L613.9 541.7 L615.9 540.3 L617.9 538.9 L619.9 537.5 L621.9 536.2 L623.9 534.8 L625.9 533.6 L627.9 532.3 L629.9 531.0 L631.9 529.8 L633.9 528.7 L635.9 527.5 L637.9 526.4 L639.9 525.4 L641.9 524.4 L643.9 523.5 L645.9 522.6 L647.9 521.7 L649.9 520.9 L651.9 520.2 L653.9 519.5 L655.9 518.8 L657.9 518.2 L659.9 517.6 L661.9 517.1 L663.9 516.7 L665.9 516.3 L667.9 516.0 L669.9 515.8 L671.9 515.6 L673.9 515.6 L675.9 515.6 L677.9 515.7 L679.9 515.9 L681.9 516.1 L683.9 516.3 L685.9 516.5 L687.9 516.8 L689.9 517.0 L691.9 517.3 L693.9 517.6 L695.9 517.8 L697.9 518.1 L699.9 518.3 L701.9 518.5 L703.9 518.7 L705.9 518.9 L707.9 519.1 L709.9 519.4 L711.9 519.6 L713.9 520.0 L715.9 520.4 L717.9 520.9 L719.9 521.5 L721.9 522.3 L723.9 523.1 L725.9 524.0 L727.9 524.8 L729.9 525.6 L731.9 526.4 L733.9 527.3 L735.9 528.3 L737.9 529.5 L739.9 530.7 L741.9 532.0 L743.9 533.4 L745.9 534.9 L747.9 536.5 L749.9 538.1 L751.9 539.7 L753.9 541.3 L755.9 543.0 L757.9 544.6 L759.9 546.3 L761.9 547.9 L763.9 549.5 L765.9 551.1 L767.9 552.7 L769.9 554.2 L771.9 555.7 L773.9 557.2 L775.9 558.8 L777.9 560.3 L779.9 561.8 L781.9 563.3 L783.9 564.8 L785.9 566.4 L787.9 567.9 L789.9 569.5 L791.9 571.1 L793.9 572.8 L795.9 574.5 L797.9 576.2 L799.9 577.9 L801.9 579.7 L803.9 581.4 L805.9 583.2 L807.9 584.9 L809.9 586.7 L811.9 588.4 L813.9 590.2 L815.9 591.9 L817.9 593.6 L819.9 595.3 L821.9 596.9 L823.9 598.6 L825.9 600.2 L827.9 601.8 L829.9 603.3 L831.9 604.9 L833.9 606.4 L835.9 607.9 L837.9 609.3 L839.9 610.8 L841.9 612.1 L843.9 613.4 L845.9 614.6 L847.9 615.7 L849.9 616.7 L851.9 617.7 L853.9 618.7 L855.9 619.6 L857.9 620.6 L859.9 621.5 L861.9 622.4 L863.9 623.2 L865.9 623.9 L867.9 624.7 L869.9 625.3 L871.9 625.9 L873.9 626.5 L875.9 627.0 L877.9 627.4 L879.9 627.8 L881.9 628.2 L883.9 628.5 L885.9 628.9 L887.9 629.1 L889.9 629.4 L891.9 629.6 L893.9 629.9 L895.9 630.1 L897.9 630.3 L899.9 630.5 L901.9 630.6 L903.9 630.8 L905.9 631.0 L907.9 631.1 L909.9 631.3 L911.9 631.4 L913.9 631.6 L915.9 631.7 L917.9 631.8 L919.9 632.0 L921.9 632.1 L923.9 632.3 L925.9 632.4 L927.9 632.5 L929.9 632.7 L931.9 632.8 L933.9 633.0 L935.9 633.1 L937.9 633.2 L939.9 633.4 L941.9 633.5 L943.9 633.7 L945.9 633.8 L947.9 634.0 L949.9 634.1 L951.9 634.3 L953.9 634.4 L955.9 634.6 L957.9 634.7 L959.9 634.8 L961.9 635.0 L963.9 635.1 L965.9 635.2 L967.9 635.3 L969.9 635.5 L971.9 635.6 L973.9 635.7 L975.9 635.8 L977.9 635.9 L979.9 636.0 L981.9 636.1 L983.9 636.2 L985.9 636.3 L987.9 636.3 L989.9 636.4 L991.9 636.5 L993.9 636.5 L995.9 636.6 L997.9 636.7 L999.9 636.7 L1001.9 636.8 L1003.9 636.8 L1005.9 636.9 L1007.9 636.9 L1009.9 637.0 L1011.9 637.0 L1013.9 637.0 L1015.9 637.1 L1017.9 637.1 L1019.9 637.1 L1021.9 637.2 L1023.9 637.2 L1025.9 637.2 L1027.9 637.3 L1029.9 637.3 L1031.9 637.3 L1033.9 637.3 L1035.9 637.4 L1037.9 637.4 L1039.9 637.4 L1041.9 637.4 L1043.9 637.4 L1045.9 637.5 L1047.9 637.5 L1049.9 637.5 L1051.9 637.5 L1053.9 637.5 L1055.9 637.5 L1057.9 637.6 L1059.9 637.6 L1061.9 637.6 L1063.9 637.6 L1065.9 637.6 L1067.9 637.6 L1069.9 637.6 L1071.9 637.6 L1073.9 637.6 L1075.9 637.6 L1077.9 637.6 L1079.9 637.6 L1081.9 637.6 L1083.9 637.6 L1085.9 637.6 L1087.9 637.6 L1089.9 637.6 L1091.9 637.6 L1093.9 637.6 L1095.9 637.6 L1097.9 637.6 L1099.9 637.6 L1101.9 637.6 L1103.9 637.6 L1105.9 637.6 L1107.9 637.6 L1109.9 637.5 L1111.9 637.5 L1113.9 637.5 L1115.9 637.5 L1117.9 637.5 L1119.9 637.5 L1121.9 637.4 L1123.9 637.4 L1125.9 637.4 L1127.9 637.3 L1129.9 637.3 L1131.9 637.3 L1133.9 637.2 L1135.9 637.2 L1137.9 637.1 L1139.9 637.1 L1141.9 637.0 L1143.9 637.0 L1145.9 636.9 L1147.9 636.8 L1149.9 636.8 L1151.9 636.7 L1153.9 636.7 L1155.9 636.6 L1157.9 636.5 L1159.9 636.5 L1161.9 636.4 L1163.9 636.3 L1165.9 636.3 L1167.9 636.2 L1169.9 636.1 L1171.9 636.0 L1173.9 636.0 L1175.9 635.9 L1177.9 635.8 L1179.9 635.8 L1181.9 635.7 L1183.9 635.6 L1185.9 635.6 L1187.9 635.5 L1189.9 635.5 L1191.9 635.4 L1193.9 635.3 L1195.9 635.3 L1197.9 635.2 L1199.9 635.2 L1201.9 635.1 L1203.9 635.1 L1205.9 635.1 L1207.9 635.0 L1209.9 635.0 L1211.9 635.0 L1213.9 634.9 L1215.9 634.9 L1217.9 634.9 L1219.9 634.9 L1221.9 634.9 L1223.9 634.9 L1225.9 634.9 L1227.9 634.9 L1229.9 634.9 L1231.9 635.0 L1233.9 635.0 L1235.9 635.0 L1237.9 635.1 L1239.9 635.1 L1241.9 635.1 L1243.9 635.2 L1245.9 635.2 L1247.9 635.3 L1249.9 635.4 L1251.9 635.4 L1253.9 635.5 L1255.9 635.5 L1257.9 635.6 L1259.9 635.7 L1261.9 635.8 L1263.9 635.8 L1265.9 635.9 L1267.9 636.0 L1269.9 636.0 L1271.9 636.1 L1273.9 636.2 L1275.9 636.3 L1277.9 636.3 L1279.9 636.4 L1281.9 636.5 L1283.9 636.5 L1285.9 636.6 L1287.9 636.6 L1289.9 636.7 L1291.9 636.7 L1293.9 636.8 L1295.9 636.8 L1297.9 636.9 L1299.9 636.9 L1301.9 637.0 L1303.9 637.0 L1305.9 637.0 L1307.9 637.1 L1309.9 637.1 L1311.9 637.1 L1313.9 637.2 L1315.9 637.2 L1317.9 637.2 L1319.9 637.3 L1321.9 637.3 L1323.9 637.3 L1325.9 637.4 L1327.9 637.4 L1329.9 637.4 L1331.9 637.4 L1333.9 637.5 L1335.9 637.5 L1337.9 637.5 L1339.9 637.6 L1341.9 637.6 L1343.9 637.6 L1345.9 637.6 L1347.9 637.7 L1349.9 637.7 L1351.9 637.7 L1353.9 637.8 L1355.9 637.8 L1357.9 637.8 L1359.9 637.8 L1361.9 637.9 L1363.9 637.9 L1365.9 637.9 L1367.9 637.9 L1369.9 637.9" fill="none" stroke="#ff8000" stroke-width="7.2" stroke-linejoin="round" stroke-linecap="round" clip-path="url(#pc)"/>
<path d="M55.9 502.1 L57.9 502.1 L59.9 502.1 L61.9 502.1 L63.9 502.2 L65.9 502.3 L67.9 502.3 L69.9 502.4 L71.9 502.5 L73.9 502.6 L75.9 502.7 L77.9 502.7 L79.9 502.8 L81.9 502.9 L83.9 503.0 L85.9 503.0 L87.9 503.1 L89.9 503.1 L91.9 503.2 L93.9 503.2 L95.9 503.3 L97.9 503.3 L99.9 503.3 L101.9 503.3 L103.9 503.3 L105.9 503.3 L107.9 503.3 L109.9 503.2 L111.9 503.2 L113.9 503.1 L115.9 503.0 L117.9 503.0 L119.9 502.9 L121.9 502.8 L123.9 502.7 L125.9 502.6 L127.9 502.5 L129.9 502.4 L131.9 502.2 L133.9 502.1 L135.9 502.0 L137.9 501.9 L139.9 501.8 L141.9 501.7 L143.9 501.5 L145.9 501.4 L147.9 501.3 L149.9 501.2 L151.9 501.1 L153.9 501.0 L155.9 500.9 L157.9 500.8 L159.9 500.7 L161.9 500.6 L163.9 500.5 L165.9 500.4 L167.9 500.4 L169.9 500.3 L171.9 500.2 L173.9 500.1 L175.9 500.0 L177.9 499.9 L179.9 499.8 L181.9 499.8 L183.9 499.7 L185.9 499.6 L187.9 499.5 L189.9 499.4 L191.9 499.3 L193.9 499.3 L195.9 499.2 L197.9 499.1 L199.9 499.0 L201.9 499.0 L203.9 498.9 L205.9 498.8 L207.9 498.8 L209.9 498.7 L211.9 498.6 L213.9 498.6 L215.9 498.5 L217.9 498.4 L219.9 498.4 L221.9 498.3 L223.9 498.3 L225.9 498.2 L227.9 498.2 L229.9 498.1 L231.9 498.1 L233.9 498.1 L235.9 498.0 L237.9 498.0 L239.9 497.9 L241.9 497.9 L243.9 497.9 L245.9 497.8 L247.9 497.8 L249.9 497.7 L251.9 497.7 L253.9 497.7 L255.9 497.7 L257.9 497.6 L259.9 497.6 L261.9 497.6 L263.9 497.6 L265.9 497.6 L267.9 497.5 L269.9 497.5 L271.9 497.5 L273.9 497.5 L275.9 497.5 L277.9 497.5 L279.9 497.5 L281.9 497.4 L283.9 497.4 L285.9 497.4 L287.9 497.4 L289.9 497.3 L291.9 497.2 L293.9 497.2 L295.9 497.1 L297.9 497.0 L299.9 496.9 L301.9 496.9 L303.9 496.8 L305.9 496.6 L307.9 496.5 L309.9 496.4 L311.9 496.3 L313.9 496.1 L315.9 496.0 L317.9 495.9 L319.9 495.7 L321.9 495.6 L323.9 495.4 L325.9 495.2 L327.9 495.1 L329.9 494.9 L331.9 494.8 L333.9 494.6 L335.9 494.4 L337.9 494.2 L339.9 494.0 L341.9 493.8 L343.9 493.7 L345.9 493.5 L347.9 493.3 L349.9 493.1 L351.9 492.9 L353.9 492.7 L355.9 492.5 L357.9 492.3 L359.9 492.1 L361.9 491.9 L363.9 491.8 L365.9 491.6 L367.9 491.4 L369.9 491.3 L371.9 491.1 L373.9 491.0 L375.9 490.8 L377.9 490.7 L379.9 490.5 L381.9 490.4 L383.9 490.3 L385.9 490.1 L387.9 490.0 L389.9 489.9 L391.9 489.7 L393.9 489.6 L395.9 489.4 L397.9 489.2 L399.9 489.0 L401.9 488.8 L403.9 488.6 L405.9 488.4 L407.9 488.2 L409.9 488.0 L411.9 487.7 L413.9 487.5 L415.9 487.2 L417.9 487.0 L419.9 486.7 L421.9 486.5 L423.9 486.2 L425.9 485.9 L427.9 485.6 L429.9 485.3 L431.9 484.9 L433.9 484.6 L435.9 484.2 L437.9 483.7 L439.9 483.3 L441.9 482.9 L443.9 482.4 L445.9 481.9 L447.9 481.4 L449.9 480.9 L451.9 480.4 L453.9 479.9 L455.9 479.3 L457.9 478.7 L459.9 478.2 L461.9 477.6 L463.9 477.0 L465.9 476.4 L467.9 475.8 L469.9 475.2 L471.9 474.6 L473.9 474.0 L475.9 473.3 L477.9 472.6 L479.9 472.0 L481.9 471.3 L483.9 470.6 L485.9 469.9 L487.9 469.2 L489.9 468.5 L491.9 467.8 L493.9 467.1 L495.9 466.3 L497.9 465.6 L499.9 464.8 L501.9 464.1 L503.9 463.4 L505.9 462.7 L507.9 462.0 L509.9 461.4 L511.9 460.7 L513.9 460.1 L515.9 459.4 L517.9 458.8 L519.9 458.1 L521.9 457.5 L523.9 456.8 L525.9 456.1 L527.9 455.4 L529.9 454.7 L531.9 453.9 L533.9 453.1 L535.9 452.3 L537.9 451.5 L539.9 450.7 L541.9 449.9 L543.9 449.0 L545.9 448.2 L547.9 447.4 L549.9 446.6 L551.9 445.8 L553.9 445.1 L555.9 444.3 L557.9 443.6 L559.9 442.9 L561.9 442.3 L563.9 441.6 L565.9 441.0 L567.9 440.4 L569.9 439.7 L571.9 439.0 L573.9 438.3 L575.9 437.6 L577.9 436.8 L579.9 435.9 L581.9 434.9 L583.9 433.9 L585.9 432.8 L587.9 431.7 L589.9 430.5 L591.9 429.3 L593.9 428.0 L595.9 426.7 L597.9 425.4 L599.9 424.1 L601.9 422.8 L603.9 421.4 L605.9 420.1 L607.9 418.7 L609.9 417.3 L611.9 415.9 L613.9 414.6 L615.9 413.3 L617.9 412.0 L619.9 410.7 L621.9 409.5 L623.9 408.4 L625.9 407.3 L627.9 406.3 L629.9 405.3 L631.9 404.4 L633.9 403.5 L635.9 402.7 L637.9 401.9 L639.9 401.0 L641.9 400.2 L643.9 399.3 L645.9 398.4 L647.9 397.5 L649.9 396.7 L651.9 395.9 L653.9 395.1 L655.9 394.4 L657.9 393.8 L659.9 393.3 L661.9 392.8 L663.9 392.4 L665.9 392.1 L667.9 391.8 L669.9 391.6 L671.9 391.4 L673.9 391.2 L675.9 391.1 L677.9 391.0 L679.9 390.8 L681.9 390.7 L683.9 390.6 L685.9 390.5 L687.9 390.4 L689.9 390.2 L691.9 390.1 L693.9 389.9 L695.9 389.7 L697.9 389.5 L699.9 389.4 L701.9 389.2 L703.9 389.0 L705.9 388.8 L707.9 388.7 L709.9 388.5 L711.9 388.4 L713.9 388.3 L715.9 388.2 L717.9 388.2 L719.9 388.4 L721.9 388.7 L723.9 389.1 L725.9 389.7 L727.9 390.4 L729.9 391.1 L731.9 391.9 L733.9 392.8 L735.9 393.7 L737.9 394.6 L739.9 395.6 L741.9 396.6 L743.9 397.6 L745.9 398.6 L747.9 399.7 L749.9 400.7 L751.9 401.8 L753.9 402.9 L755.9 404.0 L757.9 405.2 L759.9 406.4 L761.9 407.6 L763.9 409.0 L765.9 410.3 L767.9 411.8 L769.9 413.3 L771.9 414.9 L773.9 416.5 L775.9 418.2 L777.9 419.9 L779.9 421.7 L781.9 423.5 L783.9 425.3 L785.9 427.1 L787.9 429.0 L789.9 430.8 L791.9 432.7 L793.9 434.6 L795.9 436.6 L797.9 438.5 L799.9 440.6 L801.9 442.6 L803.9 444.6 L805.9 446.7 L807.9 448.7 L809.9 450.8 L811.9 452.8 L813.9 454.8 L815.9 456.8 L817.9 458.7 L819.9 460.6 L821.9 462.5 L823.9 464.4 L825.9 466.2 L827.9 467.9 L829.9 469.7 L831.9 471.3 L833.9 473.0 L835.9 474.6 L837.9 476.2 L839.9 477.8 L841.9 479.3 L843.9 480.6 L845.9 481.9 L847.9 483.1 L849.9 484.2 L851.9 485.3 L853.9 486.4 L855.9 487.5 L857.9 488.6 L859.9 489.7 L861.9 490.7 L863.9 491.5 L865.9 492.3 L867.9 493.1 L869.9 493.7 L871.9 494.3 L873.9 494.8 L875.9 495.3 L877.9 495.7 L879.9 496.0 L881.9 496.4 L883.9 496.7 L885.9 497.0 L887.9 497.3 L889.9 497.6 L891.9 497.9 L893.9 498.1 L895.9 498.4 L897.9 498.6 L899.9 498.8 L901.9 499.1 L903.9 499.3 L905.9 499.5 L907.9 499.6 L909.9 499.8 L911.9 500.0 L913.9 500.2 L915.9 500.3 L917.9 500.5 L919.9 500.6 L921.9 500.8 L923.9 500.9 L925.9 501.1 L927.9 501.2 L929.9 501.3 L931.9 501.4 L933.9 501.5 L935.9 501.6 L937.9 501.7 L939.9 501.8 L941.9 501.9 L943.9 502.0 L945.9 502.1 L947.9 502.2 L949.9 502.3 L951.9 502.3 L953.9 502.4 L955.9 502.5 L957.9 502.5 L959.9 502.6 L961.9 502.6 L963.9 502.7 L965.9 502.7 L967.9 502.7 L969.9 502.8 L971.9 502.8 L973.9 502.8 L975.9 502.8 L977.9 502.8 L979.9 502.9 L981.9 502.9 L983.9 502.9 L985.9 502.9 L987.9 502.9 L989.9 502.9 L991.9 502.9 L993.9 502.9 L995.9 502.9 L997.9 502.9 L999.9 502.9 L1001.9 502.9 L1003.9 502.9 L1005.9 502.8 L1007.9 502.8 L1009.9 502.8 L1011.9 502.8 L1013.9 502.8 L1015.9 502.8 L1017.9 502.8 L1019.9 502.8 L1021.9 502.7 L1023.9 502.7 L1025.9 502.7 L1027.9 502.7 L1029.9 502.7 L1031.9 502.6 L1033.9 502.6 L1035.9 502.6 L1037.9 502.6 L1039.9 502.6 L1041.9 502.6 L1043.9 502.5 L1045.9 502.5 L1047.9 502.5 L1049.9 502.5 L1051.9 502.5 L1053.9 502.5 L1055.9 502.5 L1057.9 502.4 L1059.9 502.4 L1061.9 502.4 L1063.9 502.4 L1065.9 502.4 L1067.9 502.4 L1069.9 502.4 L1071.9 502.4 L1073.9 502.4 L1075.9 502.4 L1077.9 502.3 L1079.9 502.3 L1081.9 502.3 L1083.9 502.3 L1085.9 502.3 L1087.9 502.3 L1089.9 502.3 L1091.9 502.2 L1093.9 502.2 L1095.9 502.2 L1097.9 502.2 L1099.9 502.2 L1101.9 502.2 L1103.9 502.1 L1105.9 502.1 L1107.9 502.1 L1109.9 502.1 L1111.9 502.1 L1113.9 502.0 L1115.9 502.0 L1117.9 502.0 L1119.9 502.0 L1121.9 502.0 L1123.9 502.0 L1125.9 501.9 L1127.9 501.9 L1129.9 501.9 L1131.9 501.9 L1133.9 501.9 L1135.9 501.8 L1137.9 501.8 L1139.9 501.8 L1141.9 501.8 L1143.9 501.8 L1145.9 501.8 L1147.9 501.8 L1149.9 501.7 L1151.9 501.7 L1153.9 501.7 L1155.9 501.7 L1157.9 501.7 L1159.9 501.7 L1161.9 501.7 L1163.9 501.7 L1165.9 501.7 L1167.9 501.7 L1169.9 501.7 L1171.9 501.7 L1173.9 501.7 L1175.9 501.7 L1177.9 501.7 L1179.9 501.7 L1181.9 501.7 L1183.9 501.7 L1185.9 501.8 L1187.9 501.8 L1189.9 501.8 L1191.9 501.8 L1193.9 501.9 L1195.9 501.9 L1197.9 502.0 L1199.9 502.0 L1201.9 502.1 L1203.9 502.1 L1205.9 502.2 L1207.9 502.2 L1209.9 502.3 L1211.9 502.4 L1213.9 502.4 L1215.9 502.5 L1217.9 502.6 L1219.9 502.6 L1221.9 502.7 L1223.9 502.8 L1225.9 502.9 L1227.9 502.9 L1229.9 503.0 L1231.9 503.1 L1233.9 503.1 L1235.9 503.2 L1237.9 503.2 L1239.9 503.3 L1241.9 503.3 L1243.9 503.4 L1245.9 503.4 L1247.9 503.5 L1249.9 503.5 L1251.9 503.5 L1253.9 503.6 L1255.9 503.6 L1257.9 503.6 L1259.9 503.6 L1261.9 503.6 L1263.9 503.7 L1265.9 503.7 L1267.9 503.7 L1269.9 503.7 L1271.9 503.7 L1273.9 503.7 L1275.9 503.7 L1277.9 503.7 L1279.9 503.7 L1281.9 503.7 L1283.9 503.7 L1285.9 503.7 L1287.9 503.7 L1289.9 503.7 L1291.9 503.7 L1293.9 503.7 L1295.9 503.7 L1297.9 503.7 L1299.9 503.7 L1301.9 503.7 L1303.9 503.7 L1305.9 503.7 L1307.9 503.7 L1309.9 503.7 L1311.9 503.7 L1313.9 503.7 L1315.9 503.7 L1317.9 503.7 L1319.9 503.7 L1321.9 503.7 L1323.9 503.7 L1325.9 503.7 L1327.9 503.7 L1329.9 503.7 L1331.9 503.7 L1333.9 503.7 L1335.9 503.7 L1337.9 503.7 L1339.9 503.7 L1341.9 503.7 L1343.9 503.6 L1345.9 503.6 L1347.9 503.6 L1349.9 503.6 L1351.9 503.6 L1353.9 503.6 L1355.9 503.6 L1357.9 503.6 L1359.9 503.6 L1361.9 503.6 L1363.9 503.6 L1365.9 503.6 L1367.9 503.6 L1369.9 503.6" fill="none" stroke="#ff00ff" stroke-width="7.2" stroke-linejoin="round" stroke-linecap="round" clip-path="url(#pc)"/>
<path d="M55.9 360.9 L57.9 360.9 L59.9 360.9 L61.9 361.0 L63.9 361.1 L65.9 361.3 L67.9 361.5 L69.9 361.7 L71.9 361.9 L73.9 362.1 L75.9 362.3 L77.9 362.4 L79.9 362.6 L81.9 362.7 L83.9 362.7 L85.9 362.8 L87.9 362.8 L89.9 362.7 L91.9 362.6 L93.9 362.4 L95.9 362.2 L97.9 362.0 L99.9 361.6 L101.9 361.3 L103.9 360.9 L105.9 360.5 L107.9 360.1 L109.9 359.7 L111.9 359.2 L113.9 358.8 L115.9 358.3 L117.9 357.9 L119.9 357.5 L121.9 357.1 L123.9 356.7 L125.9 356.4 L127.9 356.0 L129.9 355.7 L131.9 355.5 L133.9 355.2 L135.9 355.0 L137.9 354.8 L139.9 354.6 L141.9 354.5 L143.9 354.3 L145.9 354.1 L147.9 354.0 L149.9 353.9 L151.9 353.7 L153.9 353.6 L155.9 353.5 L157.9 353.4 L159.9 353.4 L161.9 353.3 L163.9 353.2 L165.9 353.2 L167.9 353.2 L169.9 353.2 L171.9 353.2 L173.9 353.2 L175.9 353.3 L177.9 353.3 L179.9 353.5 L181.9 353.6 L183.9 353.8 L185.9 354.1 L187.9 354.3 L189.9 354.6 L191.9 354.9 L193.9 355.2 L195.9 355.5 L197.9 355.8 L199.9 356.1 L201.9 356.4 L203.9 356.6 L205.9 356.8 L207.9 357.0 L209.9 357.1 L211.9 357.2 L213.9 357.3 L215.9 357.3 L217.9 357.4 L219.9 357.4 L221.9 357.4 L223.9 357.4 L225.9 357.4 L227.9 357.3 L229.9 357.3 L231.9 357.2 L233.9 357.2 L235.9 357.1 L237.9 357.0 L239.9 356.9 L241.9 356.7 L243.9 356.6 L245.9 356.4 L247.9 356.2 L249.9 355.9 L251.9 355.6 L253.9 355.3 L255.9 354.9 L257.9 354.5 L259.9 354.2 L261.9 353.8 L263.9 353.4 L265.9 353.0 L267.9 352.6 L269.9 352.3 L271.9 351.9 L273.9 351.6 L275.9 351.2 L277.9 350.9 L279.9 350.6 L281.9 350.3 L283.9 350.0 L285.9 349.7 L287.9 349.5 L289.9 349.2 L291.9 349.0 L293.9 348.9 L295.9 348.7 L297.9 348.6 L299.9 348.5 L301.9 348.5 L303.9 348.5 L305.9 348.5 L307.9 348.6 L309.9 348.7 L311.9 348.9 L313.9 349.2 L315.9 349.4 L317.9 349.7 L319.9 350.0 L321.9 350.4 L323.9 350.7 L325.9 350.9 L327.9 351.2 L329.9 351.4 L331.9 351.5 L333.9 351.6 L335.9 351.6 L337.9 351.5 L339.9 351.3 L341.9 351.0 L343.9 350.7 L345.9 350.3 L347.9 349.8 L349.9 349.4 L351.9 348.9 L353.9 348.4 L355.9 347.8 L357.9 347.2 L359.9 346.6 L361.9 346.0 L363.9 345.3 L365.9 344.7 L367.9 344.0 L369.9 343.4 L371.9 342.8 L373.9 342.2 L375.9 341.6 L377.9 341.2 L379.9 340.7 L381.9 340.3 L383.9 340.0 L385.9 339.6 L387.9 339.3 L389.9 339.1 L391.9 338.8 L393.9 338.5 L395.9 338.3 L397.9 338.0 L399.9 337.7 L401.9 337.4 L403.9 337.1 L405.9 336.8 L407.9 336.5 L409.9 336.1 L411.9 335.8 L413.9 335.5 L415.9 335.2 L417.9 334.8 L419.9 334.4 L421.9 334.0 L423.9 333.6 L425.9 333.2 L427.9 332.7 L429.9 332.1 L431.9 331.5 L433.9 330.8 L435.9 330.0 L437.9 329.1 L439.9 328.2 L441.9 327.3 L443.9 326.3 L445.9 325.4 L447.9 324.5 L449.9 323.7 L451.9 322.8 L453.9 322.0 L455.9 321.2 L457.9 320.3 L459.9 319.5 L461.9 318.7 L463.9 318.0 L465.9 317.2 L467.9 316.5 L469.9 315.9 L471.9 315.4 L473.9 314.9 L475.9 314.5 L477.9 314.2 L479.9 313.9 L481.9 313.6 L483.9 313.2 L485.9 312.8 L487.9 312.2 L489.9 311.6 L491.9 310.9 L493.9 310.1 L495.9 309.3 L497.9 308.5 L499.9 307.6 L501.9 306.7 L503.9 305.9 L505.9 305.0 L507.9 304.2 L509.9 303.3 L511.9 302.4 L513.9 301.5 L515.9 300.6 L517.9 299.8 L519.9 298.9 L521.9 298.0 L523.9 297.2 L525.9 296.3 L527.9 295.5 L529.9 294.7 L531.9 293.9 L533.9 293.2 L535.9 292.4 L537.9 291.7 L539.9 291.0 L541.9 290.3 L543.9 289.6 L545.9 288.9 L547.9 288.1 L549.9 287.4 L551.9 286.6 L553.9 285.8 L555.9 284.9 L557.9 284.0 L559.9 282.9 L561.9 281.8 L563.9 280.6 L565.9 279.4 L567.9 278.1 L569.9 276.7 L571.9 275.2 L573.9 273.7 L575.9 272.2 L577.9 270.6 L579.9 269.1 L581.9 267.5 L583.9 266.0 L585.9 264.4 L587.9 262.9 L589.9 261.4 L591.9 260.0 L593.9 258.7 L595.9 257.5 L597.9 256.4 L599.9 255.4 L601.9 254.4 L603.9 253.5 L605.9 252.7 L607.9 251.8 L609.9 251.0 L611.9 250.2 L613.9 249.4 L615.9 248.6 L617.9 247.8 L619.9 246.9 L621.9 246.0 L623.9 245.1 L625.9 244.1 L627.9 243.0 L629.9 242.0 L631.9 240.9 L633.9 239.9 L635.9 239.0 L637.9 238.0 L639.9 237.2 L641.9 236.4 L643.9 235.6 L645.9 234.9 L647.9 234.2 L649.9 233.5 L651.9 233.0 L653.9 232.5 L655.9 232.1 L657.9 231.8 L659.9 231.5 L661.9 231.4 L663.9 231.4 L665.9 231.4 L667.9 231.5 L669.9 231.6 L671.9 231.7 L673.9 231.9 L675.9 232.1 L677.9 232.4 L679.9 232.7 L681.9 233.0 L683.9 233.2 L685.9 233.3 L687.9 233.4 L689.9 233.3 L691.9 233.1 L693.9 232.9 L695.9 232.6 L697.9 232.4 L699.9 232.1 L701.9 231.8 L703.9 231.5 L705.9 231.2 L707.9 230.9 L709.9 230.7 L711.9 230.4 L713.9 230.2 L715.9 230.0 L717.9 229.9 L719.9 230.0 L721.9 230.3 L723.9 230.9 L725.9 231.7 L727.9 232.6 L729.9 233.8 L731.9 234.9 L733.9 236.1 L735.9 237.3 L737.9 238.5 L739.9 239.6 L741.9 240.7 L743.9 241.8 L745.9 242.9 L747.9 243.9 L749.9 244.9 L751.9 246.0 L753.9 247.0 L755.9 248.1 L757.9 249.1 L759.9 250.2 L761.9 251.3 L763.9 252.5 L765.9 253.6 L767.9 254.8 L769.9 256.0 L771.9 257.2 L773.9 258.5 L775.9 259.9 L777.9 261.3 L779.9 262.9 L781.9 264.7 L783.9 266.6 L785.9 268.7 L787.9 270.9 L789.9 273.3 L791.9 275.7 L793.9 278.2 L795.9 280.7 L797.9 283.2 L799.9 285.7 L801.9 288.1 L803.9 290.5 L805.9 292.9 L807.9 295.3 L809.9 297.7 L811.9 300.1 L813.9 302.6 L815.9 305.0 L817.9 307.4 L819.9 309.9 L821.9 312.4 L823.9 314.9 L825.9 317.4 L827.9 319.8 L829.9 322.1 L831.9 324.3 L833.9 326.3 L835.9 328.3 L837.9 330.1 L839.9 331.8 L841.9 333.5 L843.9 335.0 L845.9 336.5 L847.9 337.9 L849.9 339.1 L851.9 340.1 L853.9 340.9 L855.9 341.5 L857.9 342.0 L859.9 342.6 L861.9 343.2 L863.9 343.8 L865.9 344.5 L867.9 345.2 L869.9 345.9 L871.9 346.6 L873.9 347.3 L875.9 347.9 L877.9 348.5 L879.9 349.1 L881.9 349.7 L883.9 350.3 L885.9 350.8 L887.9 351.2 L889.9 351.7 L891.9 352.2 L893.9 352.6 L895.9 353.0 L897.9 353.5 L899.9 353.9 L901.9 354.4 L903.9 354.9 L905.9 355.3 L907.9 355.8 L909.9 356.3 L911.9 356.8 L913.9 357.3 L915.9 357.7 L917.9 358.2 L919.9 358.6 L921.9 359.0 L923.9 359.5 L925.9 359.9 L927.9 360.3 L929.9 360.6 L931.9 361.0 L933.9 361.4 L935.9 361.7 L937.9 362.0 L939.9 362.2 L941.9 362.4 L943.9 362.5 L945.9 362.4 L947.9 362.3 L949.9 362.1 L951.9 361.7 L953.9 361.4 L955.9 361.1 L957.9 360.8 L959.9 360.6 L961.9 360.5 L963.9 360.3 L965.9 360.2 L967.9 360.1 L969.9 360.0 L971.9 359.9 L973.9 359.9 L975.9 359.8 L977.9 359.7 L979.9 359.6 L981.9 359.6 L983.9 359.5 L985.9 359.4 L987.9 359.4 L989.9 359.3 L991.9 359.3 L993.9 359.2 L995.9 359.2 L997.9 359.2 L999.9 359.2 L1001.9 359.2 L1003.9 359.2 L1005.9 359.2 L1007.9 359.3 L1009.9 359.4 L1011.9 359.5 L1013.9 359.7 L1015.9 359.9 L1017.9 360.2 L1019.9 360.5 L1021.9 360.8 L1023.9 361.1 L1025.9 361.4 L1027.9 361.7 L1029.9 361.9 L1031.9 362.1 L1033.9 362.2 L1035.9 362.2 L1037.9 362.2 L1039.9 362.0 L1041.9 361.8 L1043.9 361.6 L1045.9 361.3 L1047.9 361.0 L1049.9 360.7 L1051.9 360.4 L1053.9 360.1 L1055.9 359.9 L1057.9 359.7 L1059.9 359.5 L1061.9 359.4 L1063.9 359.3 L1065.9 359.3 L1067.9 359.3 L1069.9 359.4 L1071.9 359.4 L1073.9 359.5 L1075.9 359.6 L1077.9 359.8 L1079.9 359.9 L1081.9 360.0 L1083.9 360.1 L1085.9 360.2 L1087.9 360.4 L1089.9 360.5 L1091.9 360.6 L1093.9 360.6 L1095.9 360.7 L1097.9 360.7 L1099.9 360.8 L1101.9 360.8 L1103.9 360.8 L1105.9 360.7 L1107.9 360.7 L1109.9 360.6 L1111.9 360.5 L1113.9 360.5 L1115.9 360.4 L1117.9 360.3 L1119.9 360.2 L1121.9 360.1 L1123.9 360.0 L1125.9 360.0 L1127.9 359.9 L1129.9 359.9 L1131.9 359.8 L1133.9 359.8 L1135.9 359.8 L1137.9 359.8 L1139.9 359.8 L1141.9 359.8 L1143.9 359.8 L1145.9 359.9 L1147.9 359.9 L1149.9 360.0 L1151.9 360.0 L1153.9 360.1 L1155.9 360.2 L1157.9 360.3 L1159.9 360.4 L1161.9 360.5 L1163.9 360.6 L1165.9 360.7 L1167.9 360.8 L1169.9 360.8 L1171.9 360.9 L1173.9 361.0 L1175.9 361.1 L1177.9 361.2 L1179.9 361.3 L1181.9 361.4 L1183.9 361.5 L1185.9 361.6 L1187.9 361.7 L1189.9 361.8 L1191.9 361.9 L1193.9 361.9 L1195.9 362.0 L1197.9 362.1 L1199.9 362.1 L1201.9 362.2 L1203.9 362.2 L1205.9 362.3 L1207.9 362.3 L1209.9 362.4 L1211.9 362.4 L1213.9 362.4 L1215.9 362.4 L1217.9 362.4 L1219.9 362.4 L1221.9 362.4 L1223.9 362.3 L1225.9 362.3 L1227.9 362.2 L1229.9 362.2 L1231.9 362.1 L1233.9 362.0 L1235.9 362.0 L1237.9 361.9 L1239.9 361.8 L1241.9 361.7 L1243.9 361.6 L1245.9 361.5 L1247.9 361.5 L1249.9 361.4 L1251.9 361.2 L1253.9 361.1 L1255.9 361.0 L1257.9 360.9 L1259.9 360.8 L1261.9 360.7 L1263.9 360.6 L1265.9 360.4 L1267.9 360.3 L1269.9 360.2 L1271.9 360.1 L1273.9 359.9 L1275.9 359.8 L1277.9 359.7 L1279.9 359.6 L1281.9 359.4 L1283.9 359.3 L1285.9 359.2 L1287.9 359.1 L1289.9 358.9 L1291.9 358.8 L1293.9 358.7 L1295.9 358.6 L1297.9 358.5 L1299.9 358.3 L1301.9 358.2 L1303.9 358.0 L1305.9 357.9 L1307.9 357.7 L1309.9 357.5 L1311.9 357.4 L1313.9 357.2 L1315.9 357.0 L1317.9 356.8 L1319.9 356.6 L1321.9 356.5 L1323.9 356.3 L1325.9 356.2 L1327.9 356.1 L1329.9 356.1 L1331.9 356.0 L1333.9 356.0 L1335.9 356.0 L1337.9 356.1 L1339.9 356.2 L1341.9 356.3 L1343.9 356.4 L1345.9 356.5 L1347.9 356.6 L1349.9 356.8 L1351.9 356.9 L1353.9 357.1 L1355.9 357.2 L1357.9 357.4 L1359.9 357.6 L1361.9 357.7 L1363.9 357.8 L1365.9 357.9 L1367.9 357.9 L1369.9 357.9" fill="none" stroke="#008000" stroke-width="7.2" stroke-linejoin="round" stroke-linecap="round" clip-path="url(#pc)"/>
<rect x="60.2" y="26.3" width="1303.8" height="960.2" fill="none" stroke="#000" stroke-width="4.0"/>
<line x1="60.2" y1="986.5" x2="60.2" y2="1005.0" stroke="#000" stroke-width="3.5"/>
<line x1="168.9" y1="986.5" x2="168.9" y2="995.0" stroke="#000" stroke-width="3.5"/>
<line x1="277.5" y1="986.5" x2="277.5" y2="1005.0" stroke="#000" stroke-width="3.5"/>
<line x1="386.1" y1="986.5" x2="386.1" y2="995.0" stroke="#000" stroke-width="3.5"/>
<line x1="494.8" y1="986.5" x2="494.8" y2="1005.0" stroke="#000" stroke-width="3.5"/>
<line x1="603.5" y1="986.5" x2="603.5" y2="995.0" stroke="#000" stroke-width="3.5"/>
<line x1="712.1" y1="986.5" x2="712.1" y2="1005.0" stroke="#000" stroke-width="3.5"/>
<line x1="820.8" y1="986.5" x2="820.8" y2="995.0" stroke="#000" stroke-width="3.5"/>
<line x1="929.4" y1="986.5" x2="929.4" y2="1005.0" stroke="#000" stroke-width="3.5"/>
<line x1="1038.0" y1="986.5" x2="1038.0" y2="995.0" stroke="#000" stroke-width="3.5"/>
<line x1="1146.7" y1="986.5" x2="1146.7" y2="1005.0" stroke="#000" stroke-width="3.5"/>
<line x1="1255.4" y1="986.5" x2="1255.4" y2="995.0" stroke="#000" stroke-width="3.5"/>
<line x1="1364.0" y1="986.5" x2="1364.0" y2="1005.0" stroke="#000" stroke-width="3.5"/>
<text transform="translate(60.2 1058.0) scale(1 1.050)" font-family="Liberation Serif" font-weight="bold" font-size="51.0" text-anchor="middle">-80</text>
<text transform="translate(277.5 1058.0) scale(1 1.050)" font-family="Liberation Serif" font-weight="bold" font-size="51.0" text-anchor="middle">-90</text>
<text transform="translate(494.8 1058.0) scale(1 1.050)" font-family="Liberation Serif" font-weight="bold" font-size="51.0" text-anchor="middle">-100</text>
<text transform="translate(712.1 1058.0) scale(1 1.050)" font-family="Liberation Serif" font-weight="bold" font-size="51.0" text-anchor="middle">-110</text>
<text transform="translate(929.4 1058.0) scale(1 1.050)" font-family="Liberation Serif" font-weight="bold" font-size="51.0" text-anchor="middle">-120</text>
<text transform="translate(1146.7 1058.0) scale(1 1.050)" font-family="Liberation Serif" font-weight="bold" font-size="51.0" text-anchor="middle">-130</text>
<text transform="translate(1364.0 1058.0) scale(1 1.050)" font-family="Liberation Serif" font-weight="bold" font-size="51.0" text-anchor="middle">-140</text>
<text x="545" y="1127" font-family="Liberation Serif" font-weight="bold" font-size="52.0" word-spacing="2.5">δ(<tspan font-size="51.0" dy="-20">29</tspan><tspan dy="20" font-size="52.0">Si) in ppm</tspan></text>
<text x="297.0" y="314.8" font-family="Liberation Serif" font-weight="bold" font-size="35.5" letter-spacing="0.5">Q<tspan font-size="35.0" dy="-14.0">4</tspan><tspan font-size="35.5" dy="14.0">(3Al)</tspan></text>
<text x="436.3" y="268.2" font-family="Liberation Serif" font-weight="bold" font-size="35.5" letter-spacing="0.5">Q<tspan font-size="35.0" dy="-14.0">4</tspan><tspan font-size="35.5" dy="14.0">(2Al)</tspan></text>
<text x="582.5" y="215.4" font-family="Liberation Serif" font-weight="bold" font-size="35.5" letter-spacing="0.5">Q<tspan font-size="35.0" dy="-14.0">4</tspan><tspan font-size="35.5" dy="14.0">(1Al)</tspan></text>
<text x="722.5" y="214.8" font-family="Liberation Serif" font-weight="bold" font-size="35.5" letter-spacing="0.5">Q<tspan font-size="35.0" dy="-14.0">4</tspan><tspan font-size="35.5" dy="14.0">(0Al)</tspan></text>
<text x="1253.4" y="940.3" font-family="Liberation Serif" font-weight="bold" font-size="54.0" fill="#000000" text-anchor="middle">(a)</text>
<text x="1248.1" y="837.8" font-family="Liberation Serif" font-weight="bold" font-size="54.0" fill="#ff0000" text-anchor="middle">(b)</text>
<text x="1242.6" y="732.0" font-family="Liberation Serif" font-weight="bold" font-size="54.0" fill="#0000ff" text-anchor="middle">(c)</text>
<text x="1238.5" y="622.8" font-family="Liberation Serif" font-weight="bold" font-size="54.0" fill="#ff8000" text-anchor="middle">(d)</text>
<text x="1231.3" y="489.6" font-family="Liberation Serif" font-weight="bold" font-size="54.0" fill="#ff00ff" text-anchor="middle">(e)</text>
<text x="1225.2" y="349.6" font-family="Liberation Serif" font-weight="bold" font-size="54.0" fill="#008000" text-anchor="middle">(f)</text>
</svg>
</body></html>
